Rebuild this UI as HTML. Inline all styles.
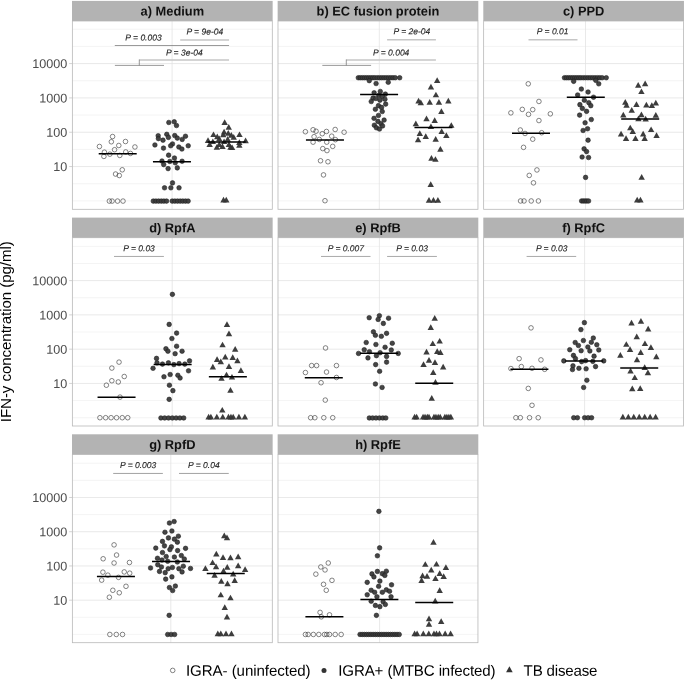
<!DOCTYPE html>
<html lang="en"><head><meta charset="utf-8"><title>IFN-y concentration by antigen</title>
<style>html,body{margin:0;padding:0;background:#fff}body{width:685px;height:680px;overflow:hidden}</style>
</head><body>
<svg width="685" height="680" viewBox="0 0 685 680" style="display:block;filter:grayscale(1)">
<rect x="0" y="0" width="685" height="680" fill="#ffffff"/>
<g>
<line x1="72.35" x2="272.3" y1="200.9" y2="200.9" stroke="#ececec" stroke-width="0.6"/>
<line x1="72.35" x2="272.3" y1="183.74" y2="183.74" stroke="#ececec" stroke-width="0.6"/>
<line x1="72.35" x2="272.3" y1="149.41" y2="149.41" stroke="#ececec" stroke-width="0.6"/>
<line x1="72.35" x2="272.3" y1="115.08" y2="115.08" stroke="#ececec" stroke-width="0.6"/>
<line x1="72.35" x2="272.3" y1="80.75" y2="80.75" stroke="#ececec" stroke-width="0.6"/>
<line x1="72.35" x2="272.3" y1="46.42" y2="46.42" stroke="#ececec" stroke-width="0.6"/>
<line x1="72.35" x2="272.3" y1="29.25" y2="29.25" stroke="#ececec" stroke-width="0.6"/>
<line x1="72.35" x2="272.3" y1="166.57" y2="166.57" stroke="#e2e2e2" stroke-width="0.75"/>
<line x1="72.35" x2="272.3" y1="132.24" y2="132.24" stroke="#e2e2e2" stroke-width="0.75"/>
<line x1="72.35" x2="272.3" y1="97.91" y2="97.91" stroke="#e2e2e2" stroke-width="0.75"/>
<line x1="72.35" x2="272.3" y1="63.58" y2="63.58" stroke="#e2e2e2" stroke-width="0.75"/>
<line x1="172.1" x2="172.1" y1="21" y2="209.3" stroke="#e2e2e2" stroke-width="0.75"/>
</g>
<g>
<line x1="278" x2="477.95" y1="200.9" y2="200.9" stroke="#ececec" stroke-width="0.6"/>
<line x1="278" x2="477.95" y1="183.74" y2="183.74" stroke="#ececec" stroke-width="0.6"/>
<line x1="278" x2="477.95" y1="149.41" y2="149.41" stroke="#ececec" stroke-width="0.6"/>
<line x1="278" x2="477.95" y1="115.08" y2="115.08" stroke="#ececec" stroke-width="0.6"/>
<line x1="278" x2="477.95" y1="80.75" y2="80.75" stroke="#ececec" stroke-width="0.6"/>
<line x1="278" x2="477.95" y1="46.42" y2="46.42" stroke="#ececec" stroke-width="0.6"/>
<line x1="278" x2="477.95" y1="29.25" y2="29.25" stroke="#ececec" stroke-width="0.6"/>
<line x1="278" x2="477.95" y1="166.57" y2="166.57" stroke="#e2e2e2" stroke-width="0.75"/>
<line x1="278" x2="477.95" y1="132.24" y2="132.24" stroke="#e2e2e2" stroke-width="0.75"/>
<line x1="278" x2="477.95" y1="97.91" y2="97.91" stroke="#e2e2e2" stroke-width="0.75"/>
<line x1="278" x2="477.95" y1="63.58" y2="63.58" stroke="#e2e2e2" stroke-width="0.75"/>
<line x1="379.3" x2="379.3" y1="21" y2="209.3" stroke="#e2e2e2" stroke-width="0.75"/>
</g>
<g>
<line x1="483.65" x2="683.6" y1="200.9" y2="200.9" stroke="#ececec" stroke-width="0.6"/>
<line x1="483.65" x2="683.6" y1="183.74" y2="183.74" stroke="#ececec" stroke-width="0.6"/>
<line x1="483.65" x2="683.6" y1="149.41" y2="149.41" stroke="#ececec" stroke-width="0.6"/>
<line x1="483.65" x2="683.6" y1="115.08" y2="115.08" stroke="#ececec" stroke-width="0.6"/>
<line x1="483.65" x2="683.6" y1="80.75" y2="80.75" stroke="#ececec" stroke-width="0.6"/>
<line x1="483.65" x2="683.6" y1="46.42" y2="46.42" stroke="#ececec" stroke-width="0.6"/>
<line x1="483.65" x2="683.6" y1="29.25" y2="29.25" stroke="#ececec" stroke-width="0.6"/>
<line x1="483.65" x2="683.6" y1="166.57" y2="166.57" stroke="#e2e2e2" stroke-width="0.75"/>
<line x1="483.65" x2="683.6" y1="132.24" y2="132.24" stroke="#e2e2e2" stroke-width="0.75"/>
<line x1="483.65" x2="683.6" y1="97.91" y2="97.91" stroke="#e2e2e2" stroke-width="0.75"/>
<line x1="483.65" x2="683.6" y1="63.58" y2="63.58" stroke="#e2e2e2" stroke-width="0.75"/>
<line x1="585.5" x2="585.5" y1="21" y2="209.3" stroke="#e2e2e2" stroke-width="0.75"/>
</g>
<g>
<line x1="72.35" x2="272.3" y1="417.7" y2="417.7" stroke="#ececec" stroke-width="0.6"/>
<line x1="72.35" x2="272.3" y1="400.56" y2="400.56" stroke="#ececec" stroke-width="0.6"/>
<line x1="72.35" x2="272.3" y1="366.29" y2="366.29" stroke="#ececec" stroke-width="0.6"/>
<line x1="72.35" x2="272.3" y1="332.02" y2="332.02" stroke="#ececec" stroke-width="0.6"/>
<line x1="72.35" x2="272.3" y1="297.75" y2="297.75" stroke="#ececec" stroke-width="0.6"/>
<line x1="72.35" x2="272.3" y1="263.49" y2="263.49" stroke="#ececec" stroke-width="0.6"/>
<line x1="72.35" x2="272.3" y1="246.35" y2="246.35" stroke="#ececec" stroke-width="0.6"/>
<line x1="72.35" x2="272.3" y1="383.43" y2="383.43" stroke="#e2e2e2" stroke-width="0.75"/>
<line x1="72.35" x2="272.3" y1="349.16" y2="349.16" stroke="#e2e2e2" stroke-width="0.75"/>
<line x1="72.35" x2="272.3" y1="314.89" y2="314.89" stroke="#e2e2e2" stroke-width="0.75"/>
<line x1="72.35" x2="272.3" y1="280.62" y2="280.62" stroke="#e2e2e2" stroke-width="0.75"/>
<line x1="172.2" x2="172.2" y1="237.7" y2="426" stroke="#e2e2e2" stroke-width="0.75"/>
</g>
<g>
<line x1="278" x2="477.95" y1="417.7" y2="417.7" stroke="#ececec" stroke-width="0.6"/>
<line x1="278" x2="477.95" y1="400.56" y2="400.56" stroke="#ececec" stroke-width="0.6"/>
<line x1="278" x2="477.95" y1="366.29" y2="366.29" stroke="#ececec" stroke-width="0.6"/>
<line x1="278" x2="477.95" y1="332.02" y2="332.02" stroke="#ececec" stroke-width="0.6"/>
<line x1="278" x2="477.95" y1="297.75" y2="297.75" stroke="#ececec" stroke-width="0.6"/>
<line x1="278" x2="477.95" y1="263.49" y2="263.49" stroke="#ececec" stroke-width="0.6"/>
<line x1="278" x2="477.95" y1="246.35" y2="246.35" stroke="#ececec" stroke-width="0.6"/>
<line x1="278" x2="477.95" y1="383.43" y2="383.43" stroke="#e2e2e2" stroke-width="0.75"/>
<line x1="278" x2="477.95" y1="349.16" y2="349.16" stroke="#e2e2e2" stroke-width="0.75"/>
<line x1="278" x2="477.95" y1="314.89" y2="314.89" stroke="#e2e2e2" stroke-width="0.75"/>
<line x1="278" x2="477.95" y1="280.62" y2="280.62" stroke="#e2e2e2" stroke-width="0.75"/>
<line x1="379.4" x2="379.4" y1="237.7" y2="426" stroke="#e2e2e2" stroke-width="0.75"/>
</g>
<g>
<line x1="483.65" x2="683.6" y1="417.7" y2="417.7" stroke="#ececec" stroke-width="0.6"/>
<line x1="483.65" x2="683.6" y1="400.56" y2="400.56" stroke="#ececec" stroke-width="0.6"/>
<line x1="483.65" x2="683.6" y1="366.29" y2="366.29" stroke="#ececec" stroke-width="0.6"/>
<line x1="483.65" x2="683.6" y1="332.02" y2="332.02" stroke="#ececec" stroke-width="0.6"/>
<line x1="483.65" x2="683.6" y1="297.75" y2="297.75" stroke="#ececec" stroke-width="0.6"/>
<line x1="483.65" x2="683.6" y1="263.49" y2="263.49" stroke="#ececec" stroke-width="0.6"/>
<line x1="483.65" x2="683.6" y1="246.35" y2="246.35" stroke="#ececec" stroke-width="0.6"/>
<line x1="483.65" x2="683.6" y1="383.43" y2="383.43" stroke="#e2e2e2" stroke-width="0.75"/>
<line x1="483.65" x2="683.6" y1="349.16" y2="349.16" stroke="#e2e2e2" stroke-width="0.75"/>
<line x1="483.65" x2="683.6" y1="314.89" y2="314.89" stroke="#e2e2e2" stroke-width="0.75"/>
<line x1="483.65" x2="683.6" y1="280.62" y2="280.62" stroke="#e2e2e2" stroke-width="0.75"/>
<line x1="584.6" x2="584.6" y1="237.7" y2="426" stroke="#e2e2e2" stroke-width="0.75"/>
</g>
<g>
<line x1="72.35" x2="272.3" y1="634.4" y2="634.4" stroke="#ececec" stroke-width="0.6"/>
<line x1="72.35" x2="272.3" y1="617.28" y2="617.28" stroke="#ececec" stroke-width="0.6"/>
<line x1="72.35" x2="272.3" y1="583.05" y2="583.05" stroke="#ececec" stroke-width="0.6"/>
<line x1="72.35" x2="272.3" y1="548.83" y2="548.83" stroke="#ececec" stroke-width="0.6"/>
<line x1="72.35" x2="272.3" y1="514.6" y2="514.6" stroke="#ececec" stroke-width="0.6"/>
<line x1="72.35" x2="272.3" y1="480.37" y2="480.37" stroke="#ececec" stroke-width="0.6"/>
<line x1="72.35" x2="272.3" y1="463.25" y2="463.25" stroke="#ececec" stroke-width="0.6"/>
<line x1="72.35" x2="272.3" y1="600.17" y2="600.17" stroke="#e2e2e2" stroke-width="0.75"/>
<line x1="72.35" x2="272.3" y1="565.94" y2="565.94" stroke="#e2e2e2" stroke-width="0.75"/>
<line x1="72.35" x2="272.3" y1="531.71" y2="531.71" stroke="#e2e2e2" stroke-width="0.75"/>
<line x1="72.35" x2="272.3" y1="497.48" y2="497.48" stroke="#e2e2e2" stroke-width="0.75"/>
<line x1="170.8" x2="170.8" y1="454.4" y2="642.7" stroke="#e2e2e2" stroke-width="0.75"/>
</g>
<g>
<line x1="278" x2="477.95" y1="634.4" y2="634.4" stroke="#ececec" stroke-width="0.6"/>
<line x1="278" x2="477.95" y1="617.28" y2="617.28" stroke="#ececec" stroke-width="0.6"/>
<line x1="278" x2="477.95" y1="583.05" y2="583.05" stroke="#ececec" stroke-width="0.6"/>
<line x1="278" x2="477.95" y1="548.83" y2="548.83" stroke="#ececec" stroke-width="0.6"/>
<line x1="278" x2="477.95" y1="514.6" y2="514.6" stroke="#ececec" stroke-width="0.6"/>
<line x1="278" x2="477.95" y1="480.37" y2="480.37" stroke="#ececec" stroke-width="0.6"/>
<line x1="278" x2="477.95" y1="463.25" y2="463.25" stroke="#ececec" stroke-width="0.6"/>
<line x1="278" x2="477.95" y1="600.17" y2="600.17" stroke="#e2e2e2" stroke-width="0.75"/>
<line x1="278" x2="477.95" y1="565.94" y2="565.94" stroke="#e2e2e2" stroke-width="0.75"/>
<line x1="278" x2="477.95" y1="531.71" y2="531.71" stroke="#e2e2e2" stroke-width="0.75"/>
<line x1="278" x2="477.95" y1="497.48" y2="497.48" stroke="#e2e2e2" stroke-width="0.75"/>
<line x1="379.6" x2="379.6" y1="454.4" y2="642.7" stroke="#e2e2e2" stroke-width="0.75"/>
</g>
<g><text x="143.5" y="40.5" transform="rotate(0.03 143.5 40.4)" text-anchor="middle" font-family="Liberation Sans, Arial, sans-serif" font-style="italic" font-size="8.5" fill="#1c1c1c" stroke="#1c1c1c" stroke-width="0.12">P = 0.003</text>
<line x1="114.8" x2="229.05" y1="45.5" y2="45.5" stroke="#6e6e6e" stroke-width="0.7"/>
<text x="204.8" y="34.4" transform="rotate(0.03 204.8 34.3)" text-anchor="middle" font-family="Liberation Sans, Arial, sans-serif" font-style="italic" font-size="8.5" fill="#1c1c1c" stroke="#1c1c1c" stroke-width="0.12">P = 9e-04</text>
<line x1="180.2" x2="229.05" y1="39.9" y2="39.9" stroke="#c6c6c6" stroke-width="1.5"/>
<text x="184.3" y="55.4" transform="rotate(0.03 184.3 55.3)" text-anchor="middle" font-family="Liberation Sans, Arial, sans-serif" font-style="italic" font-size="8.5" fill="#1c1c1c" stroke="#1c1c1c" stroke-width="0.12">P = 3e-04</text>
<line x1="139.3" x2="229.05" y1="59.9" y2="59.9" stroke="#c6c6c6" stroke-width="1.5"/>
<line x1="139.3" x2="139.3" y1="59.5" y2="65.4" stroke="#6e6e6e" stroke-width="0.7"/>
<line x1="114.9" x2="164" y1="65.4" y2="65.4" stroke="#6e6e6e" stroke-width="0.7"/>
<text x="411.9" y="34.2" transform="rotate(0.03 411.9 34.1)" text-anchor="middle" font-family="Liberation Sans, Arial, sans-serif" font-style="italic" font-size="8.5" fill="#1c1c1c" stroke="#1c1c1c" stroke-width="0.12">P = 2e-04</text>
<line x1="387.1" x2="435.9" y1="39.8" y2="39.8" stroke="#c6c6c6" stroke-width="1.5"/>
<text x="391.2" y="55.5" transform="rotate(0.03 391.2 55.4)" text-anchor="middle" font-family="Liberation Sans, Arial, sans-serif" font-style="italic" font-size="8.5" fill="#1c1c1c" stroke="#1c1c1c" stroke-width="0.12">P = 0.004</text>
<line x1="346.3" x2="435.9" y1="59.9" y2="59.9" stroke="#c6c6c6" stroke-width="1.5"/>
<line x1="346.3" x2="346.3" y1="59.5" y2="65.4" stroke="#6e6e6e" stroke-width="0.7"/>
<line x1="322.3" x2="371.1" y1="65.4" y2="65.4" stroke="#6e6e6e" stroke-width="0.7"/>
<text x="552.65" y="34.2" transform="rotate(0.03 552.65 34.1)" text-anchor="middle" font-family="Liberation Sans, Arial, sans-serif" font-style="italic" font-size="8.5" fill="#1c1c1c" stroke="#1c1c1c" stroke-width="0.12">P = 0.01</text>
<line x1="528.5" x2="577.5" y1="39.85" y2="39.85" stroke="#c6c6c6" stroke-width="1.5"/>
<text x="139.05" y="251.2" transform="rotate(0.03 139.05 251.1)" text-anchor="middle" font-family="Liberation Sans, Arial, sans-serif" font-style="italic" font-size="8.5" fill="#1c1c1c" stroke="#1c1c1c" stroke-width="0.12">P = 0.03</text>
<line x1="114" x2="163.9" y1="256.45" y2="256.45" stroke="#a9a9a9" stroke-width="1.0"/>
<text x="345.9" y="251.2" transform="rotate(0.03 345.9 251.1)" text-anchor="middle" font-family="Liberation Sans, Arial, sans-serif" font-style="italic" font-size="8.5" fill="#1c1c1c" stroke="#1c1c1c" stroke-width="0.12">P = 0.007</text>
<line x1="321" x2="370.5" y1="256.45" y2="256.45" stroke="#a9a9a9" stroke-width="1.0"/>
<text x="412.1" y="251.2" transform="rotate(0.03 412.1 251.1)" text-anchor="middle" font-family="Liberation Sans, Arial, sans-serif" font-style="italic" font-size="8.5" fill="#1c1c1c" stroke="#1c1c1c" stroke-width="0.12">P = 0.03</text>
<line x1="387.1" x2="436.9" y1="256.45" y2="256.45" stroke="#a9a9a9" stroke-width="1.0"/>
<text x="551.7" y="251.2" transform="rotate(0.03 551.7 251.1)" text-anchor="middle" font-family="Liberation Sans, Arial, sans-serif" font-style="italic" font-size="8.5" fill="#1c1c1c" stroke="#1c1c1c" stroke-width="0.12">P = 0.03</text>
<line x1="526.6" x2="576.2" y1="256.45" y2="256.45" stroke="#a9a9a9" stroke-width="1.0"/>
<text x="138.15" y="467.95" transform="rotate(0.03 138.15 467.85)" text-anchor="middle" font-family="Liberation Sans, Arial, sans-serif" font-style="italic" font-size="8.5" fill="#1c1c1c" stroke="#1c1c1c" stroke-width="0.12">P = 0.003</text>
<line x1="113.2" x2="162.85" y1="473.45" y2="473.45" stroke="#7a7a7a" stroke-width="0.7"/>
<text x="203.85" y="467.95" transform="rotate(0.03 203.85 467.85)" text-anchor="middle" font-family="Liberation Sans, Arial, sans-serif" font-style="italic" font-size="8.5" fill="#1c1c1c" stroke="#1c1c1c" stroke-width="0.12">P = 0.04</text>
<line x1="179" x2="228.75" y1="473.45" y2="473.45" stroke="#7a7a7a" stroke-width="0.7"/></g>
<g>
<circle cx="112.58" cy="136.55" r="2.3" fill="none" stroke="#333" stroke-width="0.6"/>
<circle cx="111.34" cy="141.77" r="2.3" fill="none" stroke="#333" stroke-width="0.6"/>
<circle cx="125.49" cy="141.52" r="2.3" fill="none" stroke="#333" stroke-width="0.6"/>
<circle cx="99.43" cy="146.48" r="2.3" fill="none" stroke="#333" stroke-width="0.6"/>
<circle cx="118.79" cy="145.49" r="2.3" fill="none" stroke="#333" stroke-width="0.6"/>
<circle cx="134.92" cy="146.98" r="2.3" fill="none" stroke="#333" stroke-width="0.6"/>
<circle cx="114.57" cy="149.71" r="2.3" fill="none" stroke="#333" stroke-width="0.6"/>
<circle cx="104.39" cy="152.19" r="2.3" fill="none" stroke="#333" stroke-width="0.6"/>
<circle cx="125.74" cy="151.94" r="2.3" fill="none" stroke="#333" stroke-width="0.6"/>
<circle cx="109.85" cy="154.18" r="2.3" fill="none" stroke="#333" stroke-width="0.6"/>
<circle cx="130.45" cy="153.43" r="2.3" fill="none" stroke="#333" stroke-width="0.6"/>
<circle cx="103.9" cy="156.41" r="2.3" fill="none" stroke="#333" stroke-width="0.6"/>
<circle cx="119.78" cy="155.42" r="2.3" fill="none" stroke="#333" stroke-width="0.6"/>
<circle cx="122.26" cy="169.81" r="2.3" fill="none" stroke="#333" stroke-width="0.6"/>
<circle cx="115.56" cy="174.03" r="2.3" fill="none" stroke="#333" stroke-width="0.6"/>
<circle cx="119.28" cy="175.52" r="2.3" fill="none" stroke="#333" stroke-width="0.6"/>
<circle cx="109.36" cy="201.08" r="2.3" fill="none" stroke="#333" stroke-width="0.6"/>
<circle cx="112.09" cy="201.08" r="2.3" fill="none" stroke="#333" stroke-width="0.6"/>
<circle cx="117.55" cy="201.08" r="2.3" fill="none" stroke="#333" stroke-width="0.6"/>
<circle cx="123.01" cy="201.08" r="2.3" fill="none" stroke="#333" stroke-width="0.6"/>
<circle cx="168.82" cy="122.47" r="2.3" fill="#3b3b3b" fill-opacity="0.95" stroke="#1c1c1c" stroke-width="0.55"/>
<circle cx="174.23" cy="121.75" r="2.3" fill="#3b3b3b" fill-opacity="0.95" stroke="#1c1c1c" stroke-width="0.55"/>
<circle cx="176.48" cy="125.53" r="2.3" fill="#3b3b3b" fill-opacity="0.95" stroke="#1c1c1c" stroke-width="0.55"/>
<circle cx="166.77" cy="134.32" r="2.3" fill="#3b3b3b" fill-opacity="0.95" stroke="#1c1c1c" stroke-width="0.55"/>
<circle cx="158.19" cy="135.75" r="2.3" fill="#3b3b3b" fill-opacity="0.95" stroke="#1c1c1c" stroke-width="0.55"/>
<circle cx="174.74" cy="135.55" r="2.3" fill="#3b3b3b" fill-opacity="0.95" stroke="#1c1c1c" stroke-width="0.55"/>
<circle cx="185.47" cy="136.26" r="2.3" fill="#3b3b3b" fill-opacity="0.95" stroke="#1c1c1c" stroke-width="0.55"/>
<circle cx="168.41" cy="137.39" r="2.3" fill="#3b3b3b" fill-opacity="0.95" stroke="#1c1c1c" stroke-width="0.55"/>
<circle cx="158.39" cy="138.61" r="2.3" fill="#3b3b3b" fill-opacity="0.95" stroke="#1c1c1c" stroke-width="0.55"/>
<circle cx="177.3" cy="138.1" r="2.3" fill="#3b3b3b" fill-opacity="0.95" stroke="#1c1c1c" stroke-width="0.55"/>
<circle cx="182.2" cy="139.43" r="2.3" fill="#3b3b3b" fill-opacity="0.95" stroke="#1c1c1c" stroke-width="0.55"/>
<circle cx="162.99" cy="140.15" r="2.3" fill="#3b3b3b" fill-opacity="0.95" stroke="#1c1c1c" stroke-width="0.55"/>
<circle cx="172.5" cy="143.93" r="2.3" fill="#3b3b3b" fill-opacity="0.95" stroke="#1c1c1c" stroke-width="0.55"/>
<circle cx="154.92" cy="144.95" r="2.3" fill="#3b3b3b" fill-opacity="0.95" stroke="#1c1c1c" stroke-width="0.55"/>
<circle cx="170.66" cy="145.77" r="2.3" fill="#3b3b3b" fill-opacity="0.95" stroke="#1c1c1c" stroke-width="0.55"/>
<circle cx="188.23" cy="145.77" r="2.3" fill="#3b3b3b" fill-opacity="0.95" stroke="#1c1c1c" stroke-width="0.55"/>
<circle cx="178.83" cy="146.99" r="2.3" fill="#3b3b3b" fill-opacity="0.95" stroke="#1c1c1c" stroke-width="0.55"/>
<circle cx="163.5" cy="148.12" r="2.3" fill="#3b3b3b" fill-opacity="0.95" stroke="#1c1c1c" stroke-width="0.55"/>
<circle cx="181.9" cy="149.04" r="2.3" fill="#3b3b3b" fill-opacity="0.95" stroke="#1c1c1c" stroke-width="0.55"/>
<circle cx="168.61" cy="155.17" r="2.3" fill="#3b3b3b" fill-opacity="0.95" stroke="#1c1c1c" stroke-width="0.55"/>
<circle cx="174.44" cy="158.03" r="2.3" fill="#3b3b3b" fill-opacity="0.95" stroke="#1c1c1c" stroke-width="0.55"/>
<circle cx="161.97" cy="161.04" r="2.3" fill="#3b3b3b" fill-opacity="0.95" stroke="#1c1c1c" stroke-width="0.55"/>
<circle cx="169.84" cy="161.45" r="2.3" fill="#3b3b3b" fill-opacity="0.95" stroke="#1c1c1c" stroke-width="0.55"/>
<circle cx="175.26" cy="162.77" r="2.3" fill="#3b3b3b" fill-opacity="0.95" stroke="#1c1c1c" stroke-width="0.55"/>
<circle cx="182.1" cy="161.24" r="2.3" fill="#3b3b3b" fill-opacity="0.95" stroke="#1c1c1c" stroke-width="0.55"/>
<circle cx="163.71" cy="164.61" r="2.3" fill="#3b3b3b" fill-opacity="0.95" stroke="#1c1c1c" stroke-width="0.55"/>
<circle cx="168.1" cy="168.6" r="2.3" fill="#3b3b3b" fill-opacity="0.95" stroke="#1c1c1c" stroke-width="0.55"/>
<circle cx="177.3" cy="167.88" r="2.3" fill="#3b3b3b" fill-opacity="0.95" stroke="#1c1c1c" stroke-width="0.55"/>
<circle cx="172.5" cy="182.91" r="2.3" fill="#3b3b3b" fill-opacity="0.95" stroke="#1c1c1c" stroke-width="0.55"/>
<circle cx="164.53" cy="187.81" r="2.3" fill="#3b3b3b" fill-opacity="0.95" stroke="#1c1c1c" stroke-width="0.55"/>
<circle cx="170.86" cy="187.81" r="2.3" fill="#3b3b3b" fill-opacity="0.95" stroke="#1c1c1c" stroke-width="0.55"/>
<circle cx="179.04" cy="187.81" r="2.3" fill="#3b3b3b" fill-opacity="0.95" stroke="#1c1c1c" stroke-width="0.55"/>
<circle cx="153.28" cy="201.09" r="2.3" fill="#3b3b3b" fill-opacity="0.95" stroke="#1c1c1c" stroke-width="0.55"/>
<circle cx="155.94" cy="201.09" r="2.3" fill="#3b3b3b" fill-opacity="0.95" stroke="#1c1c1c" stroke-width="0.55"/>
<circle cx="158.6" cy="201.09" r="2.3" fill="#3b3b3b" fill-opacity="0.95" stroke="#1c1c1c" stroke-width="0.55"/>
<circle cx="161.26" cy="201.09" r="2.3" fill="#3b3b3b" fill-opacity="0.95" stroke="#1c1c1c" stroke-width="0.55"/>
<circle cx="163.91" cy="201.09" r="2.3" fill="#3b3b3b" fill-opacity="0.95" stroke="#1c1c1c" stroke-width="0.55"/>
<circle cx="166.57" cy="201.09" r="2.3" fill="#3b3b3b" fill-opacity="0.95" stroke="#1c1c1c" stroke-width="0.55"/>
<circle cx="172.19" cy="201.09" r="2.3" fill="#3b3b3b" fill-opacity="0.95" stroke="#1c1c1c" stroke-width="0.55"/>
<circle cx="174.85" cy="201.09" r="2.3" fill="#3b3b3b" fill-opacity="0.95" stroke="#1c1c1c" stroke-width="0.55"/>
<circle cx="177.5" cy="201.09" r="2.3" fill="#3b3b3b" fill-opacity="0.95" stroke="#1c1c1c" stroke-width="0.55"/>
<circle cx="180.16" cy="201.09" r="2.3" fill="#3b3b3b" fill-opacity="0.95" stroke="#1c1c1c" stroke-width="0.55"/>
<circle cx="182.82" cy="201.09" r="2.3" fill="#3b3b3b" fill-opacity="0.95" stroke="#1c1c1c" stroke-width="0.55"/>
<circle cx="185.47" cy="201.09" r="2.3" fill="#3b3b3b" fill-opacity="0.95" stroke="#1c1c1c" stroke-width="0.55"/>
<circle cx="188.13" cy="201.09" r="2.3" fill="#3b3b3b" fill-opacity="0.95" stroke="#1c1c1c" stroke-width="0.55"/>
<polygon points="224.65,119.29 227.85,124.99 221.45,124.99" fill="#333333" fill-opacity="0.95"/>
<polygon points="228.74,123.94 231.94,129.64 225.54,129.64" fill="#333333" fill-opacity="0.95"/>
<polygon points="224.09,128.76 227.29,134.46 220.89,134.46" fill="#333333" fill-opacity="0.95"/>
<polygon points="228.26,129.97 231.46,135.67 225.06,135.67" fill="#333333" fill-opacity="0.95"/>
<polygon points="213.49,131.41 216.69,137.11 210.29,137.11" fill="#333333" fill-opacity="0.95"/>
<polygon points="239.5,131.41 242.7,137.11 236.3,137.11" fill="#333333" fill-opacity="0.95"/>
<polygon points="223.28,131.57 226.48,137.27 220.08,137.27" fill="#333333" fill-opacity="0.95"/>
<polygon points="231.31,131.97 234.51,137.67 228.11,137.67" fill="#333333" fill-opacity="0.95"/>
<polygon points="217.26,133.58 220.46,139.28 214.06,139.28" fill="#333333" fill-opacity="0.95"/>
<polygon points="233.72,133.98 236.92,139.68 230.52,139.68" fill="#333333" fill-opacity="0.95"/>
<polygon points="219.27,135.59 222.47,141.29 216.07,141.29" fill="#333333" fill-opacity="0.95"/>
<polygon points="227.7,135.99 230.9,141.69 224.5,141.69" fill="#333333" fill-opacity="0.95"/>
<polygon points="208.03,137.19 211.23,142.89 204.83,142.89" fill="#333333" fill-opacity="0.95"/>
<polygon points="245.61,137.59 248.81,143.29 242.41,143.29" fill="#333333" fill-opacity="0.95"/>
<polygon points="212.85,138.4 216.05,144.1 209.65,144.1" fill="#333333" fill-opacity="0.95"/>
<polygon points="224.09,138.4 227.29,144.1 220.89,144.1" fill="#333333" fill-opacity="0.95"/>
<polygon points="239.34,139.2 242.54,144.9 236.14,144.9" fill="#333333" fill-opacity="0.95"/>
<polygon points="209.64,141.21 212.84,146.91 206.44,146.91" fill="#333333" fill-opacity="0.95"/>
<polygon points="219.27,141.21 222.47,146.91 216.07,146.91" fill="#333333" fill-opacity="0.95"/>
<polygon points="228.91,141.21 232.11,146.91 225.71,146.91" fill="#333333" fill-opacity="0.95"/>
<polygon points="239.34,142.01 242.54,147.71 236.14,147.71" fill="#333333" fill-opacity="0.95"/>
<polygon points="222.48,143.21 225.68,148.91 219.28,148.91" fill="#333333" fill-opacity="0.95"/>
<polygon points="216.86,144.02 220.06,149.72 213.66,149.72" fill="#333333" fill-opacity="0.95"/>
<polygon points="230.51,144.02 233.71,149.72 227.31,149.72" fill="#333333" fill-opacity="0.95"/>
<polygon points="232.12,144.42 235.32,150.12 228.92,150.12" fill="#333333" fill-opacity="0.95"/>
<polygon points="223.52,196.74 226.72,202.44 220.32,202.44" fill="#333333" fill-opacity="0.95"/>
<polygon points="226.25,196.74 229.45,202.44 223.05,202.44" fill="#333333" fill-opacity="0.95"/>
<line x1="98.7" x2="136.7" y1="153.7" y2="153.7" stroke="#000" stroke-width="1.5"/>
<line x1="152.95" x2="190.95" y1="161.8" y2="161.8" stroke="#000" stroke-width="1.5"/>
<line x1="207.7" x2="245.7" y1="142" y2="142" stroke="#000" stroke-width="1.5"/>
</g>
<g>
<circle cx="305.39" cy="131.72" r="2.3" fill="none" stroke="#333" stroke-width="0.6"/>
<circle cx="313.08" cy="129.74" r="2.3" fill="none" stroke="#333" stroke-width="0.6"/>
<circle cx="316.06" cy="131.23" r="2.3" fill="none" stroke="#333" stroke-width="0.6"/>
<circle cx="326.48" cy="131.47" r="2.3" fill="none" stroke="#333" stroke-width="0.6"/>
<circle cx="335.17" cy="129.49" r="2.3" fill="none" stroke="#333" stroke-width="0.6"/>
<circle cx="344.1" cy="132.22" r="2.3" fill="none" stroke="#333" stroke-width="0.6"/>
<circle cx="322.26" cy="133.71" r="2.3" fill="none" stroke="#333" stroke-width="0.6"/>
<circle cx="314.07" cy="136.69" r="2.3" fill="none" stroke="#333" stroke-width="0.6"/>
<circle cx="331.69" cy="136.19" r="2.3" fill="none" stroke="#333" stroke-width="0.6"/>
<circle cx="319.28" cy="139.42" r="2.3" fill="none" stroke="#333" stroke-width="0.6"/>
<circle cx="335.42" cy="139.66" r="2.3" fill="none" stroke="#333" stroke-width="0.6"/>
<circle cx="313.08" cy="142.15" r="2.3" fill="none" stroke="#333" stroke-width="0.6"/>
<circle cx="326.73" cy="142.15" r="2.3" fill="none" stroke="#333" stroke-width="0.6"/>
<circle cx="332.69" cy="146.36" r="2.3" fill="none" stroke="#333" stroke-width="0.6"/>
<circle cx="322.76" cy="148.6" r="2.3" fill="none" stroke="#333" stroke-width="0.6"/>
<circle cx="326.98" cy="150.58" r="2.3" fill="none" stroke="#333" stroke-width="0.6"/>
<circle cx="320.53" cy="160.76" r="2.3" fill="none" stroke="#333" stroke-width="0.6"/>
<circle cx="327.97" cy="161.75" r="2.3" fill="none" stroke="#333" stroke-width="0.6"/>
<circle cx="323.5" cy="174.91" r="2.3" fill="none" stroke="#333" stroke-width="0.6"/>
<circle cx="324.99" cy="200.72" r="2.3" fill="none" stroke="#333" stroke-width="0.6"/>
<circle cx="358.31" cy="77.73" r="2.3" fill="#3b3b3b" fill-opacity="0.95" stroke="#1c1c1c" stroke-width="0.55"/>
<circle cx="360.38" cy="77.73" r="2.3" fill="#3b3b3b" fill-opacity="0.95" stroke="#1c1c1c" stroke-width="0.55"/>
<circle cx="362.45" cy="77.73" r="2.3" fill="#3b3b3b" fill-opacity="0.95" stroke="#1c1c1c" stroke-width="0.55"/>
<circle cx="364.51" cy="77.73" r="2.3" fill="#3b3b3b" fill-opacity="0.95" stroke="#1c1c1c" stroke-width="0.55"/>
<circle cx="366.58" cy="77.73" r="2.3" fill="#3b3b3b" fill-opacity="0.95" stroke="#1c1c1c" stroke-width="0.55"/>
<circle cx="368.65" cy="77.73" r="2.3" fill="#3b3b3b" fill-opacity="0.95" stroke="#1c1c1c" stroke-width="0.55"/>
<circle cx="370.72" cy="77.73" r="2.3" fill="#3b3b3b" fill-opacity="0.95" stroke="#1c1c1c" stroke-width="0.55"/>
<circle cx="372.79" cy="77.73" r="2.3" fill="#3b3b3b" fill-opacity="0.95" stroke="#1c1c1c" stroke-width="0.55"/>
<circle cx="374.86" cy="77.73" r="2.3" fill="#3b3b3b" fill-opacity="0.95" stroke="#1c1c1c" stroke-width="0.55"/>
<circle cx="377.23" cy="77.73" r="2.3" fill="#3b3b3b" fill-opacity="0.95" stroke="#1c1c1c" stroke-width="0.55"/>
<circle cx="379.48" cy="77.73" r="2.3" fill="#3b3b3b" fill-opacity="0.95" stroke="#1c1c1c" stroke-width="0.55"/>
<circle cx="381.74" cy="77.73" r="2.3" fill="#3b3b3b" fill-opacity="0.95" stroke="#1c1c1c" stroke-width="0.55"/>
<circle cx="383.99" cy="77.73" r="2.3" fill="#3b3b3b" fill-opacity="0.95" stroke="#1c1c1c" stroke-width="0.55"/>
<circle cx="386.24" cy="77.73" r="2.3" fill="#3b3b3b" fill-opacity="0.95" stroke="#1c1c1c" stroke-width="0.55"/>
<circle cx="388.5" cy="77.73" r="2.3" fill="#3b3b3b" fill-opacity="0.95" stroke="#1c1c1c" stroke-width="0.55"/>
<circle cx="390.75" cy="77.73" r="2.3" fill="#3b3b3b" fill-opacity="0.95" stroke="#1c1c1c" stroke-width="0.55"/>
<circle cx="393.01" cy="77.73" r="2.3" fill="#3b3b3b" fill-opacity="0.95" stroke="#1c1c1c" stroke-width="0.55"/>
<circle cx="395.26" cy="77.73" r="2.3" fill="#3b3b3b" fill-opacity="0.95" stroke="#1c1c1c" stroke-width="0.55"/>
<circle cx="399.69" cy="77.73" r="2.3" fill="#3b3b3b" fill-opacity="0.95" stroke="#1c1c1c" stroke-width="0.55"/>
<circle cx="369.29" cy="80.65" r="2.3" fill="#3b3b3b" fill-opacity="0.95" stroke="#1c1c1c" stroke-width="0.55"/>
<circle cx="388.24" cy="82.29" r="2.3" fill="#3b3b3b" fill-opacity="0.95" stroke="#1c1c1c" stroke-width="0.55"/>
<circle cx="376.09" cy="83.53" r="2.3" fill="#3b3b3b" fill-opacity="0.95" stroke="#1c1c1c" stroke-width="0.55"/>
<circle cx="380.31" cy="91.46" r="2.3" fill="#3b3b3b" fill-opacity="0.95" stroke="#1c1c1c" stroke-width="0.55"/>
<circle cx="374.13" cy="92.79" r="2.3" fill="#3b3b3b" fill-opacity="0.95" stroke="#1c1c1c" stroke-width="0.55"/>
<circle cx="385.35" cy="94.13" r="2.3" fill="#3b3b3b" fill-opacity="0.95" stroke="#1c1c1c" stroke-width="0.55"/>
<circle cx="378.97" cy="95.37" r="2.3" fill="#3b3b3b" fill-opacity="0.95" stroke="#1c1c1c" stroke-width="0.55"/>
<circle cx="382.26" cy="96.4" r="2.3" fill="#3b3b3b" fill-opacity="0.95" stroke="#1c1c1c" stroke-width="0.55"/>
<circle cx="373" cy="98.15" r="2.3" fill="#3b3b3b" fill-opacity="0.95" stroke="#1c1c1c" stroke-width="0.55"/>
<circle cx="375.88" cy="98.46" r="2.3" fill="#3b3b3b" fill-opacity="0.95" stroke="#1c1c1c" stroke-width="0.55"/>
<circle cx="384.94" cy="99.18" r="2.3" fill="#3b3b3b" fill-opacity="0.95" stroke="#1c1c1c" stroke-width="0.55"/>
<circle cx="380" cy="100.21" r="2.3" fill="#3b3b3b" fill-opacity="0.95" stroke="#1c1c1c" stroke-width="0.55"/>
<circle cx="371.25" cy="101.54" r="2.3" fill="#3b3b3b" fill-opacity="0.95" stroke="#1c1c1c" stroke-width="0.55"/>
<circle cx="385.66" cy="104.12" r="2.3" fill="#3b3b3b" fill-opacity="0.95" stroke="#1c1c1c" stroke-width="0.55"/>
<circle cx="378.46" cy="105.66" r="2.3" fill="#3b3b3b" fill-opacity="0.95" stroke="#1c1c1c" stroke-width="0.55"/>
<circle cx="381.54" cy="107.41" r="2.3" fill="#3b3b3b" fill-opacity="0.95" stroke="#1c1c1c" stroke-width="0.55"/>
<circle cx="375.37" cy="109.26" r="2.3" fill="#3b3b3b" fill-opacity="0.95" stroke="#1c1c1c" stroke-width="0.55"/>
<circle cx="382.26" cy="111.53" r="2.3" fill="#3b3b3b" fill-opacity="0.95" stroke="#1c1c1c" stroke-width="0.55"/>
<circle cx="378.46" cy="115.44" r="2.3" fill="#3b3b3b" fill-opacity="0.95" stroke="#1c1c1c" stroke-width="0.55"/>
<circle cx="374.03" cy="118.32" r="2.3" fill="#3b3b3b" fill-opacity="0.95" stroke="#1c1c1c" stroke-width="0.55"/>
<circle cx="384.12" cy="120.07" r="2.3" fill="#3b3b3b" fill-opacity="0.95" stroke="#1c1c1c" stroke-width="0.55"/>
<circle cx="377.94" cy="121.41" r="2.3" fill="#3b3b3b" fill-opacity="0.95" stroke="#1c1c1c" stroke-width="0.55"/>
<circle cx="381.03" cy="123.68" r="2.3" fill="#3b3b3b" fill-opacity="0.95" stroke="#1c1c1c" stroke-width="0.55"/>
<circle cx="374.34" cy="125.22" r="2.3" fill="#3b3b3b" fill-opacity="0.95" stroke="#1c1c1c" stroke-width="0.55"/>
<circle cx="382.57" cy="125.94" r="2.3" fill="#3b3b3b" fill-opacity="0.95" stroke="#1c1c1c" stroke-width="0.55"/>
<circle cx="376.4" cy="127.79" r="2.3" fill="#3b3b3b" fill-opacity="0.95" stroke="#1c1c1c" stroke-width="0.55"/>
<circle cx="379.49" cy="129.03" r="2.3" fill="#3b3b3b" fill-opacity="0.95" stroke="#1c1c1c" stroke-width="0.55"/>
<polygon points="437.17,77.25 440.37,82.95 433.97,82.95" fill="#333333" fill-opacity="0.95"/>
<polygon points="430.96,83.7 434.16,89.4 427.76,89.4" fill="#333333" fill-opacity="0.95"/>
<polygon points="435.93,91.64 439.13,97.34 432.73,97.34" fill="#333333" fill-opacity="0.95"/>
<polygon points="418.55,97.85 421.75,103.55 415.35,103.55" fill="#333333" fill-opacity="0.95"/>
<polygon points="420.79,99.59 423.99,105.29 417.59,105.29" fill="#333333" fill-opacity="0.95"/>
<polygon points="429.72,99.09 432.92,104.79 426.52,104.79" fill="#333333" fill-opacity="0.95"/>
<polygon points="438.91,99.09 442.11,104.79 435.71,104.79" fill="#333333" fill-opacity="0.95"/>
<polygon points="448.34,97.85 451.54,103.55 445.14,103.55" fill="#333333" fill-opacity="0.95"/>
<polygon points="441.39,108.27 444.59,113.97 438.19,113.97" fill="#333333" fill-opacity="0.95"/>
<polygon points="426.5,115.47 429.7,121.17 423.3,121.17" fill="#333333" fill-opacity="0.95"/>
<polygon points="434.69,117.21 437.89,122.91 431.49,122.91" fill="#333333" fill-opacity="0.95"/>
<polygon points="415.82,120.43 419.02,126.13 412.62,126.13" fill="#333333" fill-opacity="0.95"/>
<polygon points="451.31,122.17 454.51,127.87 448.11,127.87" fill="#333333" fill-opacity="0.95"/>
<polygon points="430.96,123.41 434.16,129.11 427.76,129.11" fill="#333333" fill-opacity="0.95"/>
<polygon points="441.64,128.37 444.84,134.07 438.44,134.07" fill="#333333" fill-opacity="0.95"/>
<polygon points="419.8,130.36 423,136.06 416.6,136.06" fill="#333333" fill-opacity="0.95"/>
<polygon points="446.35,132.35 449.55,138.05 443.15,138.05" fill="#333333" fill-opacity="0.95"/>
<polygon points="425.75,133.34 428.95,139.04 422.55,139.04" fill="#333333" fill-opacity="0.95"/>
<polygon points="418.06,136.56 421.26,142.26 414.86,142.26" fill="#333333" fill-opacity="0.95"/>
<polygon points="435.68,136.07 438.88,141.77 432.48,141.77" fill="#333333" fill-opacity="0.95"/>
<polygon points="440.39,145.99 443.59,151.69 437.19,151.69" fill="#333333" fill-opacity="0.95"/>
<polygon points="431.46,154.93 434.66,160.63 428.26,160.63" fill="#333333" fill-opacity="0.95"/>
<polygon points="435.43,156.17 438.63,161.87 432.23,161.87" fill="#333333" fill-opacity="0.95"/>
<polygon points="430.72,181.24 433.92,186.94 427.52,186.94" fill="#333333" fill-opacity="0.95"/>
<polygon points="428.98,197.12 432.18,202.82 425.78,202.82" fill="#333333" fill-opacity="0.95"/>
<polygon points="433.45,197.12 436.65,202.82 430.25,202.82" fill="#333333" fill-opacity="0.95"/>
<polygon points="437.91,197.12 441.11,202.82 434.71,202.82" fill="#333333" fill-opacity="0.95"/>
<line x1="305.95" x2="343.95" y1="140" y2="140" stroke="#000" stroke-width="1.5"/>
<line x1="360.1" x2="398.1" y1="94.5" y2="94.5" stroke="#000" stroke-width="1.5"/>
<line x1="414.45" x2="452.45" y1="127.5" y2="127.5" stroke="#000" stroke-width="1.5"/>
</g>
<g>
<circle cx="528.26" cy="83.82" r="2.3" fill="none" stroke="#333" stroke-width="0.6"/>
<circle cx="538.93" cy="101.45" r="2.3" fill="none" stroke="#333" stroke-width="0.6"/>
<circle cx="522.3" cy="109.39" r="2.3" fill="none" stroke="#333" stroke-width="0.6"/>
<circle cx="532.72" cy="109.64" r="2.3" fill="none" stroke="#333" stroke-width="0.6"/>
<circle cx="510.88" cy="112.86" r="2.3" fill="none" stroke="#333" stroke-width="0.6"/>
<circle cx="528.5" cy="114.35" r="2.3" fill="none" stroke="#333" stroke-width="0.6"/>
<circle cx="550.34" cy="113.85" r="2.3" fill="none" stroke="#333" stroke-width="0.6"/>
<circle cx="538.93" cy="120.55" r="2.3" fill="none" stroke="#333" stroke-width="0.6"/>
<circle cx="520.31" cy="129.99" r="2.3" fill="none" stroke="#333" stroke-width="0.6"/>
<circle cx="525.03" cy="133.46" r="2.3" fill="none" stroke="#333" stroke-width="0.6"/>
<circle cx="541.66" cy="132.72" r="2.3" fill="none" stroke="#333" stroke-width="0.6"/>
<circle cx="532.72" cy="139.17" r="2.3" fill="none" stroke="#333" stroke-width="0.6"/>
<circle cx="523.54" cy="147.36" r="2.3" fill="none" stroke="#333" stroke-width="0.6"/>
<circle cx="536.94" cy="169.94" r="2.3" fill="none" stroke="#333" stroke-width="0.6"/>
<circle cx="529.25" cy="175.4" r="2.3" fill="none" stroke="#333" stroke-width="0.6"/>
<circle cx="533.47" cy="182.85" r="2.3" fill="none" stroke="#333" stroke-width="0.6"/>
<circle cx="520.56" cy="200.96" r="2.3" fill="none" stroke="#333" stroke-width="0.6"/>
<circle cx="524.04" cy="200.96" r="2.3" fill="none" stroke="#333" stroke-width="0.6"/>
<circle cx="531.23" cy="200.96" r="2.3" fill="none" stroke="#333" stroke-width="0.6"/>
<circle cx="538.43" cy="200.96" r="2.3" fill="none" stroke="#333" stroke-width="0.6"/>
<circle cx="564.46" cy="77.73" r="2.3" fill="#3b3b3b" fill-opacity="0.95" stroke="#1c1c1c" stroke-width="0.55"/>
<circle cx="566.51" cy="77.73" r="2.3" fill="#3b3b3b" fill-opacity="0.95" stroke="#1c1c1c" stroke-width="0.55"/>
<circle cx="568.56" cy="77.73" r="2.3" fill="#3b3b3b" fill-opacity="0.95" stroke="#1c1c1c" stroke-width="0.55"/>
<circle cx="570.61" cy="77.73" r="2.3" fill="#3b3b3b" fill-opacity="0.95" stroke="#1c1c1c" stroke-width="0.55"/>
<circle cx="572.66" cy="77.73" r="2.3" fill="#3b3b3b" fill-opacity="0.95" stroke="#1c1c1c" stroke-width="0.55"/>
<circle cx="574.71" cy="77.73" r="2.3" fill="#3b3b3b" fill-opacity="0.95" stroke="#1c1c1c" stroke-width="0.55"/>
<circle cx="576.76" cy="77.73" r="2.3" fill="#3b3b3b" fill-opacity="0.95" stroke="#1c1c1c" stroke-width="0.55"/>
<circle cx="578.81" cy="77.73" r="2.3" fill="#3b3b3b" fill-opacity="0.95" stroke="#1c1c1c" stroke-width="0.55"/>
<circle cx="580.86" cy="77.73" r="2.3" fill="#3b3b3b" fill-opacity="0.95" stroke="#1c1c1c" stroke-width="0.55"/>
<circle cx="583.23" cy="77.73" r="2.3" fill="#3b3b3b" fill-opacity="0.95" stroke="#1c1c1c" stroke-width="0.55"/>
<circle cx="585.59" cy="77.73" r="2.3" fill="#3b3b3b" fill-opacity="0.95" stroke="#1c1c1c" stroke-width="0.55"/>
<circle cx="587.96" cy="77.73" r="2.3" fill="#3b3b3b" fill-opacity="0.95" stroke="#1c1c1c" stroke-width="0.55"/>
<circle cx="590.32" cy="77.73" r="2.3" fill="#3b3b3b" fill-opacity="0.95" stroke="#1c1c1c" stroke-width="0.55"/>
<circle cx="592.69" cy="77.73" r="2.3" fill="#3b3b3b" fill-opacity="0.95" stroke="#1c1c1c" stroke-width="0.55"/>
<circle cx="595.05" cy="77.73" r="2.3" fill="#3b3b3b" fill-opacity="0.95" stroke="#1c1c1c" stroke-width="0.55"/>
<circle cx="597.42" cy="77.73" r="2.3" fill="#3b3b3b" fill-opacity="0.95" stroke="#1c1c1c" stroke-width="0.55"/>
<circle cx="599.78" cy="77.73" r="2.3" fill="#3b3b3b" fill-opacity="0.95" stroke="#1c1c1c" stroke-width="0.55"/>
<circle cx="602.15" cy="77.73" r="2.3" fill="#3b3b3b" fill-opacity="0.95" stroke="#1c1c1c" stroke-width="0.55"/>
<circle cx="606.25" cy="77.73" r="2.3" fill="#3b3b3b" fill-opacity="0.95" stroke="#1c1c1c" stroke-width="0.55"/>
<circle cx="595.76" cy="80.35" r="2.3" fill="#3b3b3b" fill-opacity="0.95" stroke="#1c1c1c" stroke-width="0.55"/>
<circle cx="573.67" cy="81.34" r="2.3" fill="#3b3b3b" fill-opacity="0.95" stroke="#1c1c1c" stroke-width="0.55"/>
<circle cx="598.74" cy="83.82" r="2.3" fill="#3b3b3b" fill-opacity="0.95" stroke="#1c1c1c" stroke-width="0.55"/>
<circle cx="581.36" cy="89.04" r="2.3" fill="#3b3b3b" fill-opacity="0.95" stroke="#1c1c1c" stroke-width="0.55"/>
<circle cx="588.07" cy="92.01" r="2.3" fill="#3b3b3b" fill-opacity="0.95" stroke="#1c1c1c" stroke-width="0.55"/>
<circle cx="577.64" cy="94.99" r="2.3" fill="#3b3b3b" fill-opacity="0.95" stroke="#1c1c1c" stroke-width="0.55"/>
<circle cx="593.53" cy="97.23" r="2.3" fill="#3b3b3b" fill-opacity="0.95" stroke="#1c1c1c" stroke-width="0.55"/>
<circle cx="584.34" cy="100.2" r="2.3" fill="#3b3b3b" fill-opacity="0.95" stroke="#1c1c1c" stroke-width="0.55"/>
<circle cx="588.81" cy="102.69" r="2.3" fill="#3b3b3b" fill-opacity="0.95" stroke="#1c1c1c" stroke-width="0.55"/>
<circle cx="579.88" cy="104.67" r="2.3" fill="#3b3b3b" fill-opacity="0.95" stroke="#1c1c1c" stroke-width="0.55"/>
<circle cx="590.8" cy="105.66" r="2.3" fill="#3b3b3b" fill-opacity="0.95" stroke="#1c1c1c" stroke-width="0.55"/>
<circle cx="582.36" cy="108.39" r="2.3" fill="#3b3b3b" fill-opacity="0.95" stroke="#1c1c1c" stroke-width="0.55"/>
<circle cx="586.58" cy="111.37" r="2.3" fill="#3b3b3b" fill-opacity="0.95" stroke="#1c1c1c" stroke-width="0.55"/>
<circle cx="579.63" cy="115.09" r="2.3" fill="#3b3b3b" fill-opacity="0.95" stroke="#1c1c1c" stroke-width="0.55"/>
<circle cx="591.29" cy="119.56" r="2.3" fill="#3b3b3b" fill-opacity="0.95" stroke="#1c1c1c" stroke-width="0.55"/>
<circle cx="585.09" cy="122.79" r="2.3" fill="#3b3b3b" fill-opacity="0.95" stroke="#1c1c1c" stroke-width="0.55"/>
<circle cx="587.57" cy="128.74" r="2.3" fill="#3b3b3b" fill-opacity="0.95" stroke="#1c1c1c" stroke-width="0.55"/>
<circle cx="583.1" cy="130.48" r="2.3" fill="#3b3b3b" fill-opacity="0.95" stroke="#1c1c1c" stroke-width="0.55"/>
<circle cx="588.07" cy="140.16" r="2.3" fill="#3b3b3b" fill-opacity="0.95" stroke="#1c1c1c" stroke-width="0.55"/>
<circle cx="584.09" cy="148.85" r="2.3" fill="#3b3b3b" fill-opacity="0.95" stroke="#1c1c1c" stroke-width="0.55"/>
<circle cx="586.58" cy="151.58" r="2.3" fill="#3b3b3b" fill-opacity="0.95" stroke="#1c1c1c" stroke-width="0.55"/>
<circle cx="582.11" cy="157.04" r="2.3" fill="#3b3b3b" fill-opacity="0.95" stroke="#1c1c1c" stroke-width="0.55"/>
<circle cx="588.56" cy="157.53" r="2.3" fill="#3b3b3b" fill-opacity="0.95" stroke="#1c1c1c" stroke-width="0.55"/>
<circle cx="585.58" cy="177.39" r="2.3" fill="#3b3b3b" fill-opacity="0.95" stroke="#1c1c1c" stroke-width="0.55"/>
<circle cx="581.61" cy="200.96" r="2.3" fill="#3b3b3b" fill-opacity="0.95" stroke="#1c1c1c" stroke-width="0.55"/>
<circle cx="583.35" cy="200.96" r="2.3" fill="#3b3b3b" fill-opacity="0.95" stroke="#1c1c1c" stroke-width="0.55"/>
<circle cx="585.09" cy="200.96" r="2.3" fill="#3b3b3b" fill-opacity="0.95" stroke="#1c1c1c" stroke-width="0.55"/>
<circle cx="586.82" cy="200.96" r="2.3" fill="#3b3b3b" fill-opacity="0.95" stroke="#1c1c1c" stroke-width="0.55"/>
<circle cx="588.56" cy="200.96" r="2.3" fill="#3b3b3b" fill-opacity="0.95" stroke="#1c1c1c" stroke-width="0.55"/>
<polygon points="645.15,80.48 648.35,86.18 641.95,86.18" fill="#333333" fill-opacity="0.95"/>
<polygon points="638.2,81.97 641.4,87.67 635,87.67" fill="#333333" fill-opacity="0.95"/>
<polygon points="641.42,88.42 644.62,94.12 638.22,94.12" fill="#333333" fill-opacity="0.95"/>
<polygon points="625.29,99.09 628.49,104.79 622.09,104.79" fill="#333333" fill-opacity="0.95"/>
<polygon points="626.53,102.07 629.73,107.77 623.33,107.77" fill="#333333" fill-opacity="0.95"/>
<polygon points="636.46,101.32 639.66,107.02 633.26,107.02" fill="#333333" fill-opacity="0.95"/>
<polygon points="646.39,101.82 649.59,107.52 643.19,107.52" fill="#333333" fill-opacity="0.95"/>
<polygon points="651.85,102.32 655.05,108.02 648.65,108.02" fill="#333333" fill-opacity="0.95"/>
<polygon points="655.82,99.83 659.02,105.53 652.62,105.53" fill="#333333" fill-opacity="0.95"/>
<polygon points="631.74,107.03 634.94,112.73 628.54,112.73" fill="#333333" fill-opacity="0.95"/>
<polygon points="623.31,111.75 626.51,117.45 620.11,117.45" fill="#333333" fill-opacity="0.95"/>
<polygon points="641.42,111.5 644.62,117.2 638.22,117.2" fill="#333333" fill-opacity="0.95"/>
<polygon points="655.82,111.99 659.02,117.69 652.62,117.69" fill="#333333" fill-opacity="0.95"/>
<polygon points="638.45,115.47 641.65,121.17 635.25,121.17" fill="#333333" fill-opacity="0.95"/>
<polygon points="645.64,115.72 648.84,121.42 642.44,121.42" fill="#333333" fill-opacity="0.95"/>
<polygon points="630.26,124.65 633.46,130.35 627.06,130.35" fill="#333333" fill-opacity="0.95"/>
<polygon points="651.1,126.39 654.3,132.09 647.9,132.09" fill="#333333" fill-opacity="0.95"/>
<polygon points="632.74,128.37 635.94,134.07 629.54,134.07" fill="#333333" fill-opacity="0.95"/>
<polygon points="621.07,130.86 624.27,136.56 617.87,136.56" fill="#333333" fill-opacity="0.95"/>
<polygon points="643.16,130.86 646.36,136.56 639.96,136.56" fill="#333333" fill-opacity="0.95"/>
<polygon points="656.56,132.35 659.76,138.05 653.36,138.05" fill="#333333" fill-opacity="0.95"/>
<polygon points="626.04,135.32 629.24,141.02 622.84,141.02" fill="#333333" fill-opacity="0.95"/>
<polygon points="635.47,135.32 638.67,141.02 632.27,141.02" fill="#333333" fill-opacity="0.95"/>
<polygon points="644.65,135.32 647.85,141.02 641.45,141.02" fill="#333333" fill-opacity="0.95"/>
<polygon points="641.67,174.04 644.87,179.74 638.47,179.74" fill="#333333" fill-opacity="0.95"/>
<polygon points="637.2,196.87 640.4,202.57 634,202.57" fill="#333333" fill-opacity="0.95"/>
<polygon points="640.43,196.87 643.63,202.57 637.23,202.57" fill="#333333" fill-opacity="0.95"/>
<line x1="512" x2="550" y1="133.3" y2="133.3" stroke="#000" stroke-width="1.5"/>
<line x1="566.8" x2="604.8" y1="97.3" y2="97.3" stroke="#000" stroke-width="1.5"/>
<line x1="621.2" x2="659.2" y1="118.9" y2="118.9" stroke="#000" stroke-width="1.5"/>
</g>
<g>
<circle cx="119.04" cy="362.12" r="2.3" fill="none" stroke="#333" stroke-width="0.6"/>
<circle cx="111.84" cy="368.07" r="2.3" fill="none" stroke="#333" stroke-width="0.6"/>
<circle cx="124.25" cy="376.51" r="2.3" fill="none" stroke="#333" stroke-width="0.6"/>
<circle cx="111.84" cy="380.73" r="2.3" fill="none" stroke="#333" stroke-width="0.6"/>
<circle cx="118.29" cy="381.97" r="2.3" fill="none" stroke="#333" stroke-width="0.6"/>
<circle cx="106.38" cy="385.2" r="2.3" fill="none" stroke="#333" stroke-width="0.6"/>
<circle cx="120.03" cy="397.11" r="2.3" fill="none" stroke="#333" stroke-width="0.6"/>
<circle cx="99.93" cy="417.71" r="2.3" fill="none" stroke="#333" stroke-width="0.6"/>
<circle cx="105.64" cy="417.71" r="2.3" fill="none" stroke="#333" stroke-width="0.6"/>
<circle cx="111.09" cy="417.71" r="2.3" fill="none" stroke="#333" stroke-width="0.6"/>
<circle cx="116.55" cy="417.71" r="2.3" fill="none" stroke="#333" stroke-width="0.6"/>
<circle cx="122.26" cy="417.71" r="2.3" fill="none" stroke="#333" stroke-width="0.6"/>
<circle cx="127.72" cy="417.71" r="2.3" fill="none" stroke="#333" stroke-width="0.6"/>
<circle cx="172.39" cy="294.36" r="2.3" fill="#3b3b3b" fill-opacity="0.95" stroke="#1c1c1c" stroke-width="0.55"/>
<circle cx="169.17" cy="324.39" r="2.3" fill="#3b3b3b" fill-opacity="0.95" stroke="#1c1c1c" stroke-width="0.55"/>
<circle cx="176.61" cy="333.08" r="2.3" fill="#3b3b3b" fill-opacity="0.95" stroke="#1c1c1c" stroke-width="0.55"/>
<circle cx="171.9" cy="338.54" r="2.3" fill="#3b3b3b" fill-opacity="0.95" stroke="#1c1c1c" stroke-width="0.55"/>
<circle cx="176.61" cy="346.23" r="2.3" fill="#3b3b3b" fill-opacity="0.95" stroke="#1c1c1c" stroke-width="0.55"/>
<circle cx="165.94" cy="348.72" r="2.3" fill="#3b3b3b" fill-opacity="0.95" stroke="#1c1c1c" stroke-width="0.55"/>
<circle cx="167.93" cy="351.2" r="2.3" fill="#3b3b3b" fill-opacity="0.95" stroke="#1c1c1c" stroke-width="0.55"/>
<circle cx="182.07" cy="351.2" r="2.3" fill="#3b3b3b" fill-opacity="0.95" stroke="#1c1c1c" stroke-width="0.55"/>
<circle cx="175.12" cy="353.68" r="2.3" fill="#3b3b3b" fill-opacity="0.95" stroke="#1c1c1c" stroke-width="0.55"/>
<circle cx="156.51" cy="358.39" r="2.3" fill="#3b3b3b" fill-opacity="0.95" stroke="#1c1c1c" stroke-width="0.55"/>
<circle cx="189.52" cy="360.88" r="2.3" fill="#3b3b3b" fill-opacity="0.95" stroke="#1c1c1c" stroke-width="0.55"/>
<circle cx="157.01" cy="362.86" r="2.3" fill="#3b3b3b" fill-opacity="0.95" stroke="#1c1c1c" stroke-width="0.55"/>
<circle cx="162.47" cy="364.1" r="2.3" fill="#3b3b3b" fill-opacity="0.95" stroke="#1c1c1c" stroke-width="0.55"/>
<circle cx="168.42" cy="362.86" r="2.3" fill="#3b3b3b" fill-opacity="0.95" stroke="#1c1c1c" stroke-width="0.55"/>
<circle cx="173.88" cy="364.6" r="2.3" fill="#3b3b3b" fill-opacity="0.95" stroke="#1c1c1c" stroke-width="0.55"/>
<circle cx="179.09" cy="363.61" r="2.3" fill="#3b3b3b" fill-opacity="0.95" stroke="#1c1c1c" stroke-width="0.55"/>
<circle cx="184.8" cy="364.1" r="2.3" fill="#3b3b3b" fill-opacity="0.95" stroke="#1c1c1c" stroke-width="0.55"/>
<circle cx="153.04" cy="368.32" r="2.3" fill="#3b3b3b" fill-opacity="0.95" stroke="#1c1c1c" stroke-width="0.55"/>
<circle cx="188.53" cy="370.8" r="2.3" fill="#3b3b3b" fill-opacity="0.95" stroke="#1c1c1c" stroke-width="0.55"/>
<circle cx="170.16" cy="374.53" r="2.3" fill="#3b3b3b" fill-opacity="0.95" stroke="#1c1c1c" stroke-width="0.55"/>
<circle cx="177.85" cy="375.27" r="2.3" fill="#3b3b3b" fill-opacity="0.95" stroke="#1c1c1c" stroke-width="0.55"/>
<circle cx="163.96" cy="376.76" r="2.3" fill="#3b3b3b" fill-opacity="0.95" stroke="#1c1c1c" stroke-width="0.55"/>
<circle cx="180.09" cy="378" r="2.3" fill="#3b3b3b" fill-opacity="0.95" stroke="#1c1c1c" stroke-width="0.55"/>
<circle cx="169.42" cy="385.2" r="2.3" fill="#3b3b3b" fill-opacity="0.95" stroke="#1c1c1c" stroke-width="0.55"/>
<circle cx="172.89" cy="390.66" r="2.3" fill="#3b3b3b" fill-opacity="0.95" stroke="#1c1c1c" stroke-width="0.55"/>
<circle cx="169.17" cy="399.34" r="2.3" fill="#3b3b3b" fill-opacity="0.95" stroke="#1c1c1c" stroke-width="0.55"/>
<circle cx="160.9" cy="417.96" r="2.3" fill="#3b3b3b" fill-opacity="0.95" stroke="#1c1c1c" stroke-width="0.55"/>
<circle cx="164.71" cy="417.96" r="2.3" fill="#3b3b3b" fill-opacity="0.95" stroke="#1c1c1c" stroke-width="0.55"/>
<circle cx="168.51" cy="417.96" r="2.3" fill="#3b3b3b" fill-opacity="0.95" stroke="#1c1c1c" stroke-width="0.55"/>
<circle cx="172.31" cy="417.96" r="2.3" fill="#3b3b3b" fill-opacity="0.95" stroke="#1c1c1c" stroke-width="0.55"/>
<circle cx="176.11" cy="417.96" r="2.3" fill="#3b3b3b" fill-opacity="0.95" stroke="#1c1c1c" stroke-width="0.55"/>
<circle cx="179.91" cy="417.96" r="2.3" fill="#3b3b3b" fill-opacity="0.95" stroke="#1c1c1c" stroke-width="0.55"/>
<circle cx="183.72" cy="417.96" r="2.3" fill="#3b3b3b" fill-opacity="0.95" stroke="#1c1c1c" stroke-width="0.55"/>
<polygon points="226.99,321.29 230.19,326.99 223.79,326.99" fill="#333333" fill-opacity="0.95"/>
<polygon points="228.98,330.48 232.18,336.18 225.78,336.18" fill="#333333" fill-opacity="0.95"/>
<polygon points="222.53,341.64 225.73,347.34 219.33,347.34" fill="#333333" fill-opacity="0.95"/>
<polygon points="235.18,346.11 238.38,351.81 231.98,351.81" fill="#333333" fill-opacity="0.95"/>
<polygon points="225.26,353.81 228.46,359.51 222.06,359.51" fill="#333333" fill-opacity="0.95"/>
<polygon points="232.7,354.3 235.9,360 229.5,360" fill="#333333" fill-opacity="0.95"/>
<polygon points="217.07,356.29 220.27,361.99 213.87,361.99" fill="#333333" fill-opacity="0.95"/>
<polygon points="220.79,358.52 223.99,364.22 217.59,364.22" fill="#333333" fill-opacity="0.95"/>
<polygon points="237.42,357.53 240.62,363.23 234.22,363.23" fill="#333333" fill-opacity="0.95"/>
<polygon points="212.85,363.73 216.05,369.43 209.65,369.43" fill="#333333" fill-opacity="0.95"/>
<polygon points="228.98,363.24 232.18,368.94 225.78,368.94" fill="#333333" fill-opacity="0.95"/>
<polygon points="240.89,367.21 244.09,372.91 237.69,372.91" fill="#333333" fill-opacity="0.95"/>
<polygon points="226.5,371.67 229.7,377.37 223.3,377.37" fill="#333333" fill-opacity="0.95"/>
<polygon points="221.53,375.15 224.73,380.85 218.33,380.85" fill="#333333" fill-opacity="0.95"/>
<polygon points="231.96,373.91 235.16,379.61 228.76,379.61" fill="#333333" fill-opacity="0.95"/>
<polygon points="230.47,387.06 233.67,392.76 227.27,392.76" fill="#333333" fill-opacity="0.95"/>
<polygon points="222.28,406.91 225.48,412.61 219.08,412.61" fill="#333333" fill-opacity="0.95"/>
<polygon points="208.63,413.86 211.83,419.56 205.43,419.56" fill="#333333" fill-opacity="0.95"/>
<polygon points="210.86,413.86 214.06,419.56 207.66,419.56" fill="#333333" fill-opacity="0.95"/>
<polygon points="216.82,413.86 220.02,419.56 213.62,419.56" fill="#333333" fill-opacity="0.95"/>
<polygon points="222.77,413.86 225.97,419.56 219.57,419.56" fill="#333333" fill-opacity="0.95"/>
<polygon points="228.48,413.86 231.68,419.56 225.28,419.56" fill="#333333" fill-opacity="0.95"/>
<polygon points="230.96,413.86 234.16,419.56 227.76,419.56" fill="#333333" fill-opacity="0.95"/>
<polygon points="233.2,413.86 236.4,419.56 230,419.56" fill="#333333" fill-opacity="0.95"/>
<polygon points="238.91,413.86 242.11,419.56 235.71,419.56" fill="#333333" fill-opacity="0.95"/>
<polygon points="244.86,413.86 248.06,419.56 241.66,419.56" fill="#333333" fill-opacity="0.95"/>
<line x1="97.55" x2="135.55" y1="397.16" y2="397.16" stroke="#000" stroke-width="1.5"/>
<line x1="153.64" x2="191.64" y1="364.4" y2="364.4" stroke="#000" stroke-width="1.5"/>
<line x1="208.86" x2="246.86" y1="376.81" y2="376.81" stroke="#000" stroke-width="1.5"/>
</g>
<g>
<circle cx="325.53" cy="347.97" r="2.3" fill="none" stroke="#333" stroke-width="0.6"/>
<circle cx="311.63" cy="365.59" r="2.3" fill="none" stroke="#333" stroke-width="0.6"/>
<circle cx="316.59" cy="365.59" r="2.3" fill="none" stroke="#333" stroke-width="0.6"/>
<circle cx="336.45" cy="365.59" r="2.3" fill="none" stroke="#333" stroke-width="0.6"/>
<circle cx="305.42" cy="372.54" r="2.3" fill="none" stroke="#333" stroke-width="0.6"/>
<circle cx="326.52" cy="372.04" r="2.3" fill="none" stroke="#333" stroke-width="0.6"/>
<circle cx="336.45" cy="377.5" r="2.3" fill="none" stroke="#333" stroke-width="0.6"/>
<circle cx="321.06" cy="382.72" r="2.3" fill="none" stroke="#333" stroke-width="0.6"/>
<circle cx="325.28" cy="400.09" r="2.3" fill="none" stroke="#333" stroke-width="0.6"/>
<circle cx="310.64" cy="417.71" r="2.3" fill="none" stroke="#333" stroke-width="0.6"/>
<circle cx="314.85" cy="417.71" r="2.3" fill="none" stroke="#333" stroke-width="0.6"/>
<circle cx="323.79" cy="417.71" r="2.3" fill="none" stroke="#333" stroke-width="0.6"/>
<circle cx="332.72" cy="417.71" r="2.3" fill="none" stroke="#333" stroke-width="0.6"/>
<circle cx="369.2" cy="317.69" r="2.3" fill="#3b3b3b" fill-opacity="0.95" stroke="#1c1c1c" stroke-width="0.55"/>
<circle cx="379.38" cy="315.71" r="2.3" fill="#3b3b3b" fill-opacity="0.95" stroke="#1c1c1c" stroke-width="0.55"/>
<circle cx="388.56" cy="318.19" r="2.3" fill="#3b3b3b" fill-opacity="0.95" stroke="#1c1c1c" stroke-width="0.55"/>
<circle cx="378.14" cy="319.43" r="2.3" fill="#3b3b3b" fill-opacity="0.95" stroke="#1c1c1c" stroke-width="0.55"/>
<circle cx="383.35" cy="323.4" r="2.3" fill="#3b3b3b" fill-opacity="0.95" stroke="#1c1c1c" stroke-width="0.55"/>
<circle cx="373.42" cy="331.84" r="2.3" fill="#3b3b3b" fill-opacity="0.95" stroke="#1c1c1c" stroke-width="0.55"/>
<circle cx="386.58" cy="333.33" r="2.3" fill="#3b3b3b" fill-opacity="0.95" stroke="#1c1c1c" stroke-width="0.55"/>
<circle cx="375.41" cy="335.31" r="2.3" fill="#3b3b3b" fill-opacity="0.95" stroke="#1c1c1c" stroke-width="0.55"/>
<circle cx="381.36" cy="336.31" r="2.3" fill="#3b3b3b" fill-opacity="0.95" stroke="#1c1c1c" stroke-width="0.55"/>
<circle cx="366.23" cy="342.51" r="2.3" fill="#3b3b3b" fill-opacity="0.95" stroke="#1c1c1c" stroke-width="0.55"/>
<circle cx="392.28" cy="343.26" r="2.3" fill="#3b3b3b" fill-opacity="0.95" stroke="#1c1c1c" stroke-width="0.55"/>
<circle cx="375.91" cy="344.5" r="2.3" fill="#3b3b3b" fill-opacity="0.95" stroke="#1c1c1c" stroke-width="0.55"/>
<circle cx="385.09" cy="347.23" r="2.3" fill="#3b3b3b" fill-opacity="0.95" stroke="#1c1c1c" stroke-width="0.55"/>
<circle cx="364.24" cy="349.71" r="2.3" fill="#3b3b3b" fill-opacity="0.95" stroke="#1c1c1c" stroke-width="0.55"/>
<circle cx="391.29" cy="349.96" r="2.3" fill="#3b3b3b" fill-opacity="0.95" stroke="#1c1c1c" stroke-width="0.55"/>
<circle cx="369.45" cy="351.69" r="2.3" fill="#3b3b3b" fill-opacity="0.95" stroke="#1c1c1c" stroke-width="0.55"/>
<circle cx="380.12" cy="352.69" r="2.3" fill="#3b3b3b" fill-opacity="0.95" stroke="#1c1c1c" stroke-width="0.55"/>
<circle cx="358.53" cy="353.43" r="2.3" fill="#3b3b3b" fill-opacity="0.95" stroke="#1c1c1c" stroke-width="0.55"/>
<circle cx="398.24" cy="353.43" r="2.3" fill="#3b3b3b" fill-opacity="0.95" stroke="#1c1c1c" stroke-width="0.55"/>
<circle cx="376.4" cy="355.66" r="2.3" fill="#3b3b3b" fill-opacity="0.95" stroke="#1c1c1c" stroke-width="0.55"/>
<circle cx="386.58" cy="356.41" r="2.3" fill="#3b3b3b" fill-opacity="0.95" stroke="#1c1c1c" stroke-width="0.55"/>
<circle cx="367.96" cy="357.9" r="2.3" fill="#3b3b3b" fill-opacity="0.95" stroke="#1c1c1c" stroke-width="0.55"/>
<circle cx="386.58" cy="362.12" r="2.3" fill="#3b3b3b" fill-opacity="0.95" stroke="#1c1c1c" stroke-width="0.55"/>
<circle cx="375.66" cy="364.6" r="2.3" fill="#3b3b3b" fill-opacity="0.95" stroke="#1c1c1c" stroke-width="0.55"/>
<circle cx="379.63" cy="371.3" r="2.3" fill="#3b3b3b" fill-opacity="0.95" stroke="#1c1c1c" stroke-width="0.55"/>
<circle cx="375.41" cy="383.96" r="2.3" fill="#3b3b3b" fill-opacity="0.95" stroke="#1c1c1c" stroke-width="0.55"/>
<circle cx="382.11" cy="387.43" r="2.3" fill="#3b3b3b" fill-opacity="0.95" stroke="#1c1c1c" stroke-width="0.55"/>
<circle cx="369.3" cy="417.96" r="2.3" fill="#3b3b3b" fill-opacity="0.95" stroke="#1c1c1c" stroke-width="0.55"/>
<circle cx="372.6" cy="417.96" r="2.3" fill="#3b3b3b" fill-opacity="0.95" stroke="#1c1c1c" stroke-width="0.55"/>
<circle cx="376" cy="417.96" r="2.3" fill="#3b3b3b" fill-opacity="0.95" stroke="#1c1c1c" stroke-width="0.55"/>
<circle cx="379.4" cy="417.96" r="2.3" fill="#3b3b3b" fill-opacity="0.95" stroke="#1c1c1c" stroke-width="0.55"/>
<circle cx="382.8" cy="417.96" r="2.3" fill="#3b3b3b" fill-opacity="0.95" stroke="#1c1c1c" stroke-width="0.55"/>
<circle cx="385.81" cy="417.96" r="2.3" fill="#3b3b3b" fill-opacity="0.95" stroke="#1c1c1c" stroke-width="0.55"/>
<polygon points="434.72,315.09 437.92,320.79 431.52,320.79" fill="#333333" fill-opacity="0.95"/>
<polygon points="430.75,324.27 433.95,329.97 427.55,329.97" fill="#333333" fill-opacity="0.95"/>
<polygon points="439.69,337.92 442.89,343.62 436.49,343.62" fill="#333333" fill-opacity="0.95"/>
<polygon points="432.74,340.4 435.94,346.1 429.54,346.1" fill="#333333" fill-opacity="0.95"/>
<polygon points="426.53,348.84 429.73,354.54 423.33,354.54" fill="#333333" fill-opacity="0.95"/>
<polygon points="437.2,348.35 440.4,354.05 434,354.05" fill="#333333" fill-opacity="0.95"/>
<polygon points="440.43,349.34 443.63,355.04 437.23,355.04" fill="#333333" fill-opacity="0.95"/>
<polygon points="429.01,357.03 432.21,362.73 425.81,362.73" fill="#333333" fill-opacity="0.95"/>
<polygon points="434.97,359.26 438.17,364.96 431.77,364.96" fill="#333333" fill-opacity="0.95"/>
<polygon points="423.55,361.25 426.75,366.95 420.35,366.95" fill="#333333" fill-opacity="0.95"/>
<polygon points="443.16,363.73 446.36,369.43 439.96,369.43" fill="#333333" fill-opacity="0.95"/>
<polygon points="433.23,369.19 436.43,374.89 430.03,374.89" fill="#333333" fill-opacity="0.95"/>
<polygon points="435.47,379.12 438.67,384.82 432.27,384.82" fill="#333333" fill-opacity="0.95"/>
<polygon points="431.74,395 434.94,400.7 428.54,400.7" fill="#333333" fill-opacity="0.95"/>
<polygon points="414.62,413.86 417.82,419.56 411.42,419.56" fill="#333333" fill-opacity="0.95"/>
<polygon points="416.61,413.86 419.81,419.56 413.41,419.56" fill="#333333" fill-opacity="0.95"/>
<polygon points="423.06,413.86 426.26,419.56 419.86,419.56" fill="#333333" fill-opacity="0.95"/>
<polygon points="425.04,413.86 428.24,419.56 421.84,419.56" fill="#333333" fill-opacity="0.95"/>
<polygon points="427.28,413.86 430.48,419.56 424.08,419.56" fill="#333333" fill-opacity="0.95"/>
<polygon points="429.01,413.86 432.21,419.56 425.81,419.56" fill="#333333" fill-opacity="0.95"/>
<polygon points="433.98,413.86 437.18,419.56 430.78,419.56" fill="#333333" fill-opacity="0.95"/>
<polygon points="435.96,413.86 439.16,419.56 432.76,419.56" fill="#333333" fill-opacity="0.95"/>
<polygon points="438.2,413.86 441.4,419.56 435,419.56" fill="#333333" fill-opacity="0.95"/>
<polygon points="440.18,413.86 443.38,419.56 436.98,419.56" fill="#333333" fill-opacity="0.95"/>
<polygon points="444.9,413.86 448.1,419.56 441.7,419.56" fill="#333333" fill-opacity="0.95"/>
<polygon points="446.88,413.86 450.08,419.56 443.68,419.56" fill="#333333" fill-opacity="0.95"/>
<polygon points="448.87,413.86 452.07,419.56 445.67,419.56" fill="#333333" fill-opacity="0.95"/>
<polygon points="450.85,413.86 454.05,419.56 447.65,419.56" fill="#333333" fill-opacity="0.95"/>
<line x1="304.79" x2="342.79" y1="377.8" y2="377.8" stroke="#000" stroke-width="1.5"/>
<line x1="360.05" x2="398.05" y1="353.23" y2="353.23" stroke="#000" stroke-width="1.5"/>
<line x1="415.23" x2="453.23" y1="383.26" y2="383.26" stroke="#000" stroke-width="1.5"/>
</g>
<g>
<circle cx="531.02" cy="327.87" r="2.3" fill="none" stroke="#333" stroke-width="0.6"/>
<circle cx="519.11" cy="358.64" r="2.3" fill="none" stroke="#333" stroke-width="0.6"/>
<circle cx="540.95" cy="359.88" r="2.3" fill="none" stroke="#333" stroke-width="0.6"/>
<circle cx="521.34" cy="366.58" r="2.3" fill="none" stroke="#333" stroke-width="0.6"/>
<circle cx="510.92" cy="368.57" r="2.3" fill="none" stroke="#333" stroke-width="0.6"/>
<circle cx="532.01" cy="368.32" r="2.3" fill="none" stroke="#333" stroke-width="0.6"/>
<circle cx="544.67" cy="369.31" r="2.3" fill="none" stroke="#333" stroke-width="0.6"/>
<circle cx="528.29" cy="388.42" r="2.3" fill="none" stroke="#333" stroke-width="0.6"/>
<circle cx="532.01" cy="405.3" r="2.3" fill="none" stroke="#333" stroke-width="0.6"/>
<circle cx="515.88" cy="417.71" r="2.3" fill="none" stroke="#333" stroke-width="0.6"/>
<circle cx="520.35" cy="417.71" r="2.3" fill="none" stroke="#333" stroke-width="0.6"/>
<circle cx="529.53" cy="417.71" r="2.3" fill="none" stroke="#333" stroke-width="0.6"/>
<circle cx="538.22" cy="417.71" r="2.3" fill="none" stroke="#333" stroke-width="0.6"/>
<circle cx="584.38" cy="322.66" r="2.3" fill="#3b3b3b" fill-opacity="0.95" stroke="#1c1c1c" stroke-width="0.55"/>
<circle cx="580.91" cy="329.61" r="2.3" fill="#3b3b3b" fill-opacity="0.95" stroke="#1c1c1c" stroke-width="0.55"/>
<circle cx="593.31" cy="338.04" r="2.3" fill="#3b3b3b" fill-opacity="0.95" stroke="#1c1c1c" stroke-width="0.55"/>
<circle cx="583.39" cy="340.53" r="2.3" fill="#3b3b3b" fill-opacity="0.95" stroke="#1c1c1c" stroke-width="0.55"/>
<circle cx="591.33" cy="342.26" r="2.3" fill="#3b3b3b" fill-opacity="0.95" stroke="#1c1c1c" stroke-width="0.55"/>
<circle cx="575.2" cy="342.51" r="2.3" fill="#3b3b3b" fill-opacity="0.95" stroke="#1c1c1c" stroke-width="0.55"/>
<circle cx="578.42" cy="345.49" r="2.3" fill="#3b3b3b" fill-opacity="0.95" stroke="#1c1c1c" stroke-width="0.55"/>
<circle cx="596.79" cy="344.74" r="2.3" fill="#3b3b3b" fill-opacity="0.95" stroke="#1c1c1c" stroke-width="0.55"/>
<circle cx="587.85" cy="346.98" r="2.3" fill="#3b3b3b" fill-opacity="0.95" stroke="#1c1c1c" stroke-width="0.55"/>
<circle cx="569.74" cy="349.71" r="2.3" fill="#3b3b3b" fill-opacity="0.95" stroke="#1c1c1c" stroke-width="0.55"/>
<circle cx="581.15" cy="350.7" r="2.3" fill="#3b3b3b" fill-opacity="0.95" stroke="#1c1c1c" stroke-width="0.55"/>
<circle cx="589.84" cy="350.95" r="2.3" fill="#3b3b3b" fill-opacity="0.95" stroke="#1c1c1c" stroke-width="0.55"/>
<circle cx="598.77" cy="349.96" r="2.3" fill="#3b3b3b" fill-opacity="0.95" stroke="#1c1c1c" stroke-width="0.55"/>
<circle cx="573.46" cy="355.42" r="2.3" fill="#3b3b3b" fill-opacity="0.95" stroke="#1c1c1c" stroke-width="0.55"/>
<circle cx="594.06" cy="356.16" r="2.3" fill="#3b3b3b" fill-opacity="0.95" stroke="#1c1c1c" stroke-width="0.55"/>
<circle cx="575.45" cy="358.64" r="2.3" fill="#3b3b3b" fill-opacity="0.95" stroke="#1c1c1c" stroke-width="0.55"/>
<circle cx="563.78" cy="360.88" r="2.3" fill="#3b3b3b" fill-opacity="0.95" stroke="#1c1c1c" stroke-width="0.55"/>
<circle cx="581.65" cy="361.62" r="2.3" fill="#3b3b3b" fill-opacity="0.95" stroke="#1c1c1c" stroke-width="0.55"/>
<circle cx="585.62" cy="360.63" r="2.3" fill="#3b3b3b" fill-opacity="0.95" stroke="#1c1c1c" stroke-width="0.55"/>
<circle cx="592.82" cy="361.37" r="2.3" fill="#3b3b3b" fill-opacity="0.95" stroke="#1c1c1c" stroke-width="0.55"/>
<circle cx="603.74" cy="360.88" r="2.3" fill="#3b3b3b" fill-opacity="0.95" stroke="#1c1c1c" stroke-width="0.55"/>
<circle cx="572.96" cy="365.84" r="2.3" fill="#3b3b3b" fill-opacity="0.95" stroke="#1c1c1c" stroke-width="0.55"/>
<circle cx="595.55" cy="366.58" r="2.3" fill="#3b3b3b" fill-opacity="0.95" stroke="#1c1c1c" stroke-width="0.55"/>
<circle cx="578.92" cy="368.32" r="2.3" fill="#3b3b3b" fill-opacity="0.95" stroke="#1c1c1c" stroke-width="0.55"/>
<circle cx="586.12" cy="368.82" r="2.3" fill="#3b3b3b" fill-opacity="0.95" stroke="#1c1c1c" stroke-width="0.55"/>
<circle cx="572.47" cy="369.56" r="2.3" fill="#3b3b3b" fill-opacity="0.95" stroke="#1c1c1c" stroke-width="0.55"/>
<circle cx="586.86" cy="380.23" r="2.3" fill="#3b3b3b" fill-opacity="0.95" stroke="#1c1c1c" stroke-width="0.55"/>
<circle cx="583.64" cy="387.43" r="2.3" fill="#3b3b3b" fill-opacity="0.95" stroke="#1c1c1c" stroke-width="0.55"/>
<circle cx="573.71" cy="417.71" r="2.3" fill="#3b3b3b" fill-opacity="0.95" stroke="#1c1c1c" stroke-width="0.55"/>
<circle cx="577.43" cy="417.71" r="2.3" fill="#3b3b3b" fill-opacity="0.95" stroke="#1c1c1c" stroke-width="0.55"/>
<circle cx="584.63" cy="417.71" r="2.3" fill="#3b3b3b" fill-opacity="0.95" stroke="#1c1c1c" stroke-width="0.55"/>
<circle cx="588.1" cy="417.71" r="2.3" fill="#3b3b3b" fill-opacity="0.95" stroke="#1c1c1c" stroke-width="0.55"/>
<circle cx="591.58" cy="417.71" r="2.3" fill="#3b3b3b" fill-opacity="0.95" stroke="#1c1c1c" stroke-width="0.55"/>
<polygon points="640.96,318.07 644.16,323.77 637.76,323.77" fill="#333333" fill-opacity="0.95"/>
<polygon points="631.53,319.81 634.73,325.51 628.33,325.51" fill="#333333" fill-opacity="0.95"/>
<polygon points="648.16,325.76 651.36,331.46 644.96,331.46" fill="#333333" fill-opacity="0.95"/>
<polygon points="636.74,333.45 639.94,339.15 633.54,339.15" fill="#333333" fill-opacity="0.95"/>
<polygon points="626.32,341.15 629.52,346.85 623.12,346.85" fill="#333333" fill-opacity="0.95"/>
<polygon points="644.93,340.4 648.13,346.1 641.73,346.1" fill="#333333" fill-opacity="0.95"/>
<polygon points="650.89,344.37 654.09,350.07 647.69,350.07" fill="#333333" fill-opacity="0.95"/>
<polygon points="630.04,346.36 633.24,352.06 626.84,352.06" fill="#333333" fill-opacity="0.95"/>
<polygon points="640.72,349.34 643.92,355.04 637.52,355.04" fill="#333333" fill-opacity="0.95"/>
<polygon points="620.36,352.07 623.56,357.77 617.16,357.77" fill="#333333" fill-opacity="0.95"/>
<polygon points="656.35,353.56 659.55,359.26 653.15,359.26" fill="#333333" fill-opacity="0.95"/>
<polygon points="636.99,356.54 640.19,362.24 633.79,362.24" fill="#333333" fill-opacity="0.95"/>
<polygon points="644.69,364.23 647.89,369.93 641.49,369.93" fill="#333333" fill-opacity="0.95"/>
<polygon points="630.54,367.7 633.74,373.4 627.34,373.4" fill="#333333" fill-opacity="0.95"/>
<polygon points="647.91,369.44 651.11,375.14 644.71,375.14" fill="#333333" fill-opacity="0.95"/>
<polygon points="634.76,374.4 637.96,380.1 631.56,380.1" fill="#333333" fill-opacity="0.95"/>
<polygon points="632.28,385.57 635.48,391.27 629.08,391.27" fill="#333333" fill-opacity="0.95"/>
<polygon points="640.22,385.32 643.42,391.02 637.02,391.02" fill="#333333" fill-opacity="0.95"/>
<polygon points="622.85,413.86 626.05,419.56 619.65,419.56" fill="#333333" fill-opacity="0.95"/>
<polygon points="628.31,413.86 631.51,419.56 625.11,419.56" fill="#333333" fill-opacity="0.95"/>
<polygon points="633.77,413.86 636.97,419.56 630.57,419.56" fill="#333333" fill-opacity="0.95"/>
<polygon points="639.23,413.86 642.43,419.56 636.03,419.56" fill="#333333" fill-opacity="0.95"/>
<polygon points="644.69,413.86 647.89,419.56 641.49,419.56" fill="#333333" fill-opacity="0.95"/>
<polygon points="650.15,413.86 653.35,419.56 646.95,419.56" fill="#333333" fill-opacity="0.95"/>
<polygon points="655.61,413.86 658.81,419.56 652.41,419.56" fill="#333333" fill-opacity="0.95"/>
<line x1="510.41" x2="548.41" y1="369.37" y2="369.37" stroke="#000" stroke-width="1.5"/>
<line x1="565.15" x2="603.15" y1="360.93" y2="360.93" stroke="#000" stroke-width="1.5"/>
<line x1="620.23" x2="658.23" y1="368.12" y2="368.12" stroke="#000" stroke-width="1.5"/>
</g>
<g>
<circle cx="114.07" cy="544.87" r="2.3" fill="none" stroke="#333" stroke-width="0.6"/>
<circle cx="116.55" cy="555.04" r="2.3" fill="none" stroke="#333" stroke-width="0.6"/>
<circle cx="103.15" cy="558.77" r="2.3" fill="none" stroke="#333" stroke-width="0.6"/>
<circle cx="114.07" cy="562.99" r="2.3" fill="none" stroke="#333" stroke-width="0.6"/>
<circle cx="129.46" cy="562.49" r="2.3" fill="none" stroke="#333" stroke-width="0.6"/>
<circle cx="102.91" cy="572.17" r="2.3" fill="none" stroke="#333" stroke-width="0.6"/>
<circle cx="124.25" cy="571.92" r="2.3" fill="none" stroke="#333" stroke-width="0.6"/>
<circle cx="107.87" cy="575.15" r="2.3" fill="none" stroke="#333" stroke-width="0.6"/>
<circle cx="129.71" cy="573.16" r="2.3" fill="none" stroke="#333" stroke-width="0.6"/>
<circle cx="118.54" cy="577.38" r="2.3" fill="none" stroke="#333" stroke-width="0.6"/>
<circle cx="101.66" cy="580.11" r="2.3" fill="none" stroke="#333" stroke-width="0.6"/>
<circle cx="125.99" cy="586.31" r="2.3" fill="none" stroke="#333" stroke-width="0.6"/>
<circle cx="112.83" cy="590.28" r="2.3" fill="none" stroke="#333" stroke-width="0.6"/>
<circle cx="119.28" cy="592.77" r="2.3" fill="none" stroke="#333" stroke-width="0.6"/>
<circle cx="109.36" cy="597.23" r="2.3" fill="none" stroke="#333" stroke-width="0.6"/>
<circle cx="109.85" cy="634.46" r="2.3" fill="none" stroke="#333" stroke-width="0.6"/>
<circle cx="116.31" cy="634.46" r="2.3" fill="none" stroke="#333" stroke-width="0.6"/>
<circle cx="122.51" cy="634.46" r="2.3" fill="none" stroke="#333" stroke-width="0.6"/>
<circle cx="169.42" cy="523.03" r="2.3" fill="#3b3b3b" fill-opacity="0.95" stroke="#1c1c1c" stroke-width="0.55"/>
<circle cx="174.13" cy="521.54" r="2.3" fill="#3b3b3b" fill-opacity="0.95" stroke="#1c1c1c" stroke-width="0.55"/>
<circle cx="164.95" cy="532.21" r="2.3" fill="#3b3b3b" fill-opacity="0.95" stroke="#1c1c1c" stroke-width="0.55"/>
<circle cx="171.9" cy="530.97" r="2.3" fill="#3b3b3b" fill-opacity="0.95" stroke="#1c1c1c" stroke-width="0.55"/>
<circle cx="178.35" cy="536.18" r="2.3" fill="#3b3b3b" fill-opacity="0.95" stroke="#1c1c1c" stroke-width="0.55"/>
<circle cx="168.42" cy="537.92" r="2.3" fill="#3b3b3b" fill-opacity="0.95" stroke="#1c1c1c" stroke-width="0.55"/>
<circle cx="174.38" cy="539.16" r="2.3" fill="#3b3b3b" fill-opacity="0.95" stroke="#1c1c1c" stroke-width="0.55"/>
<circle cx="162.47" cy="541.39" r="2.3" fill="#3b3b3b" fill-opacity="0.95" stroke="#1c1c1c" stroke-width="0.55"/>
<circle cx="177.36" cy="542.14" r="2.3" fill="#3b3b3b" fill-opacity="0.95" stroke="#1c1c1c" stroke-width="0.55"/>
<circle cx="164.45" cy="545.86" r="2.3" fill="#3b3b3b" fill-opacity="0.95" stroke="#1c1c1c" stroke-width="0.55"/>
<circle cx="171.4" cy="546.85" r="2.3" fill="#3b3b3b" fill-opacity="0.95" stroke="#1c1c1c" stroke-width="0.55"/>
<circle cx="155.77" cy="548.09" r="2.3" fill="#3b3b3b" fill-opacity="0.95" stroke="#1c1c1c" stroke-width="0.55"/>
<circle cx="185.55" cy="548.34" r="2.3" fill="#3b3b3b" fill-opacity="0.95" stroke="#1c1c1c" stroke-width="0.55"/>
<circle cx="169.91" cy="549.58" r="2.3" fill="#3b3b3b" fill-opacity="0.95" stroke="#1c1c1c" stroke-width="0.55"/>
<circle cx="177.61" cy="550.58" r="2.3" fill="#3b3b3b" fill-opacity="0.95" stroke="#1c1c1c" stroke-width="0.55"/>
<circle cx="162.47" cy="552.56" r="2.3" fill="#3b3b3b" fill-opacity="0.95" stroke="#1c1c1c" stroke-width="0.55"/>
<circle cx="181.33" cy="555.54" r="2.3" fill="#3b3b3b" fill-opacity="0.95" stroke="#1c1c1c" stroke-width="0.55"/>
<circle cx="166.19" cy="556.53" r="2.3" fill="#3b3b3b" fill-opacity="0.95" stroke="#1c1c1c" stroke-width="0.55"/>
<circle cx="174.38" cy="557.03" r="2.3" fill="#3b3b3b" fill-opacity="0.95" stroke="#1c1c1c" stroke-width="0.55"/>
<circle cx="157.5" cy="558.27" r="2.3" fill="#3b3b3b" fill-opacity="0.95" stroke="#1c1c1c" stroke-width="0.55"/>
<circle cx="184.31" cy="559.01" r="2.3" fill="#3b3b3b" fill-opacity="0.95" stroke="#1c1c1c" stroke-width="0.55"/>
<circle cx="161.97" cy="560.01" r="2.3" fill="#3b3b3b" fill-opacity="0.95" stroke="#1c1c1c" stroke-width="0.55"/>
<circle cx="167.68" cy="561.25" r="2.3" fill="#3b3b3b" fill-opacity="0.95" stroke="#1c1c1c" stroke-width="0.55"/>
<circle cx="177.36" cy="561.99" r="2.3" fill="#3b3b3b" fill-opacity="0.95" stroke="#1c1c1c" stroke-width="0.55"/>
<circle cx="157.75" cy="564.72" r="2.3" fill="#3b3b3b" fill-opacity="0.95" stroke="#1c1c1c" stroke-width="0.55"/>
<circle cx="183.31" cy="566.21" r="2.3" fill="#3b3b3b" fill-opacity="0.95" stroke="#1c1c1c" stroke-width="0.55"/>
<circle cx="150.55" cy="567.95" r="2.3" fill="#3b3b3b" fill-opacity="0.95" stroke="#1c1c1c" stroke-width="0.55"/>
<circle cx="161.47" cy="566.96" r="2.3" fill="#3b3b3b" fill-opacity="0.95" stroke="#1c1c1c" stroke-width="0.55"/>
<circle cx="172.39" cy="567.45" r="2.3" fill="#3b3b3b" fill-opacity="0.95" stroke="#1c1c1c" stroke-width="0.55"/>
<circle cx="190.51" cy="568.45" r="2.3" fill="#3b3b3b" fill-opacity="0.95" stroke="#1c1c1c" stroke-width="0.55"/>
<circle cx="178.85" cy="568.69" r="2.3" fill="#3b3b3b" fill-opacity="0.95" stroke="#1c1c1c" stroke-width="0.55"/>
<circle cx="168.18" cy="568.69" r="2.3" fill="#3b3b3b" fill-opacity="0.95" stroke="#1c1c1c" stroke-width="0.55"/>
<circle cx="159.49" cy="571.42" r="2.3" fill="#3b3b3b" fill-opacity="0.95" stroke="#1c1c1c" stroke-width="0.55"/>
<circle cx="165.2" cy="572.66" r="2.3" fill="#3b3b3b" fill-opacity="0.95" stroke="#1c1c1c" stroke-width="0.55"/>
<circle cx="182.07" cy="571.92" r="2.3" fill="#3b3b3b" fill-opacity="0.95" stroke="#1c1c1c" stroke-width="0.55"/>
<circle cx="171.9" cy="576.88" r="2.3" fill="#3b3b3b" fill-opacity="0.95" stroke="#1c1c1c" stroke-width="0.55"/>
<circle cx="165.69" cy="579.12" r="2.3" fill="#3b3b3b" fill-opacity="0.95" stroke="#1c1c1c" stroke-width="0.55"/>
<circle cx="175.37" cy="586.07" r="2.3" fill="#3b3b3b" fill-opacity="0.95" stroke="#1c1c1c" stroke-width="0.55"/>
<circle cx="169.42" cy="587.55" r="2.3" fill="#3b3b3b" fill-opacity="0.95" stroke="#1c1c1c" stroke-width="0.55"/>
<circle cx="172.64" cy="590.53" r="2.3" fill="#3b3b3b" fill-opacity="0.95" stroke="#1c1c1c" stroke-width="0.55"/>
<circle cx="169.17" cy="615.35" r="2.3" fill="#3b3b3b" fill-opacity="0.95" stroke="#1c1c1c" stroke-width="0.55"/>
<circle cx="167.68" cy="634.46" r="2.3" fill="#3b3b3b" fill-opacity="0.95" stroke="#1c1c1c" stroke-width="0.55"/>
<circle cx="171.15" cy="634.46" r="2.3" fill="#3b3b3b" fill-opacity="0.95" stroke="#1c1c1c" stroke-width="0.55"/>
<circle cx="174.63" cy="634.46" r="2.3" fill="#3b3b3b" fill-opacity="0.95" stroke="#1c1c1c" stroke-width="0.55"/>
<polygon points="224.26,532.59 227.46,538.29 221.06,538.29" fill="#333333" fill-opacity="0.95"/>
<polygon points="226.99,534.57 230.19,540.27 223.79,540.27" fill="#333333" fill-opacity="0.95"/>
<polygon points="216.32,550.7 219.52,556.4 213.12,556.4" fill="#333333" fill-opacity="0.95"/>
<polygon points="238.16,553.43 241.36,559.13 234.96,559.13" fill="#333333" fill-opacity="0.95"/>
<polygon points="223.02,554.18 226.22,559.88 219.82,559.88" fill="#333333" fill-opacity="0.95"/>
<polygon points="230.47,554.43 233.67,560.13 227.27,560.13" fill="#333333" fill-opacity="0.95"/>
<polygon points="212.6,559.39 215.8,565.09 209.4,565.09" fill="#333333" fill-opacity="0.95"/>
<polygon points="238.16,562.62 241.36,568.32 234.96,568.32" fill="#333333" fill-opacity="0.95"/>
<polygon points="216.07,563.61 219.27,569.31 212.87,569.31" fill="#333333" fill-opacity="0.95"/>
<polygon points="227.24,564.1 230.44,569.8 224.04,569.8" fill="#333333" fill-opacity="0.95"/>
<polygon points="205.4,565.35 208.6,571.05 202.2,571.05" fill="#333333" fill-opacity="0.95"/>
<polygon points="245.11,566.34 248.31,572.04 241.91,572.04" fill="#333333" fill-opacity="0.95"/>
<polygon points="223.52,567.83 226.72,573.53 220.32,573.53" fill="#333333" fill-opacity="0.95"/>
<polygon points="233.2,570.81 236.4,576.51 230,576.51" fill="#333333" fill-opacity="0.95"/>
<polygon points="214.58,572.05 217.78,577.75 211.38,577.75" fill="#333333" fill-opacity="0.95"/>
<polygon points="234.69,577.26 237.89,582.96 231.49,582.96" fill="#333333" fill-opacity="0.95"/>
<polygon points="221.28,578 224.48,583.7 218.08,583.7" fill="#333333" fill-opacity="0.95"/>
<polygon points="227.49,580.48 230.69,586.18 224.29,586.18" fill="#333333" fill-opacity="0.95"/>
<polygon points="220.79,591.65 223.99,597.35 217.59,597.35" fill="#333333" fill-opacity="0.95"/>
<polygon points="230.47,594.63 233.67,600.33 227.27,600.33" fill="#333333" fill-opacity="0.95"/>
<polygon points="224.76,604.31 227.96,610.01 221.56,610.01" fill="#333333" fill-opacity="0.95"/>
<polygon points="226.99,613.74 230.19,619.44 223.79,619.44" fill="#333333" fill-opacity="0.95"/>
<polygon points="217.81,630.62 221.01,636.32 214.61,636.32" fill="#333333" fill-opacity="0.95"/>
<polygon points="220.79,630.62 223.99,636.32 217.59,636.32" fill="#333333" fill-opacity="0.95"/>
<polygon points="226,630.62 229.2,636.32 222.8,636.32" fill="#333333" fill-opacity="0.95"/>
<polygon points="231.46,630.62 234.66,636.32 228.26,636.32" fill="#333333" fill-opacity="0.95"/>
<line x1="96.93" x2="134.93" y1="576.44" y2="576.44" stroke="#000" stroke-width="1.5"/>
<line x1="152.03" x2="190.03" y1="561.42" y2="561.42" stroke="#000" stroke-width="1.5"/>
<line x1="206.75" x2="244.75" y1="573.46" y2="573.46" stroke="#000" stroke-width="1.5"/>
</g>
<g>
<circle cx="328.26" cy="562.99" r="2.3" fill="none" stroke="#333" stroke-width="0.6"/>
<circle cx="320.81" cy="566.96" r="2.3" fill="none" stroke="#333" stroke-width="0.6"/>
<circle cx="325.03" cy="569.93" r="2.3" fill="none" stroke="#333" stroke-width="0.6"/>
<circle cx="315.85" cy="574.15" r="2.3" fill="none" stroke="#333" stroke-width="0.6"/>
<circle cx="331.98" cy="580.36" r="2.3" fill="none" stroke="#333" stroke-width="0.6"/>
<circle cx="323.54" cy="584.33" r="2.3" fill="none" stroke="#333" stroke-width="0.6"/>
<circle cx="326.27" cy="590.28" r="2.3" fill="none" stroke="#333" stroke-width="0.6"/>
<circle cx="320.07" cy="612.37" r="2.3" fill="none" stroke="#333" stroke-width="0.6"/>
<circle cx="329.5" cy="614.85" r="2.3" fill="none" stroke="#333" stroke-width="0.6"/>
<circle cx="321.31" cy="616.84" r="2.3" fill="none" stroke="#333" stroke-width="0.6"/>
<circle cx="305.42" cy="634.46" r="2.3" fill="none" stroke="#333" stroke-width="0.6"/>
<circle cx="308.15" cy="634.46" r="2.3" fill="none" stroke="#333" stroke-width="0.6"/>
<circle cx="313.36" cy="634.46" r="2.3" fill="none" stroke="#333" stroke-width="0.6"/>
<circle cx="318.82" cy="634.46" r="2.3" fill="none" stroke="#333" stroke-width="0.6"/>
<circle cx="324.53" cy="634.46" r="2.3" fill="none" stroke="#333" stroke-width="0.6"/>
<circle cx="326.77" cy="634.46" r="2.3" fill="none" stroke="#333" stroke-width="0.6"/>
<circle cx="329.5" cy="634.46" r="2.3" fill="none" stroke="#333" stroke-width="0.6"/>
<circle cx="335.2" cy="634.46" r="2.3" fill="none" stroke="#333" stroke-width="0.6"/>
<circle cx="341.16" cy="634.46" r="2.3" fill="none" stroke="#333" stroke-width="0.6"/>
<circle cx="378.88" cy="511.36" r="2.3" fill="#3b3b3b" fill-opacity="0.95" stroke="#1c1c1c" stroke-width="0.55"/>
<circle cx="379.63" cy="547.85" r="2.3" fill="#3b3b3b" fill-opacity="0.95" stroke="#1c1c1c" stroke-width="0.55"/>
<circle cx="377.39" cy="555.79" r="2.3" fill="#3b3b3b" fill-opacity="0.95" stroke="#1c1c1c" stroke-width="0.55"/>
<circle cx="377.39" cy="571.42" r="2.3" fill="#3b3b3b" fill-opacity="0.95" stroke="#1c1c1c" stroke-width="0.55"/>
<circle cx="386.33" cy="571.18" r="2.3" fill="#3b3b3b" fill-opacity="0.95" stroke="#1c1c1c" stroke-width="0.55"/>
<circle cx="371.93" cy="573.91" r="2.3" fill="#3b3b3b" fill-opacity="0.95" stroke="#1c1c1c" stroke-width="0.55"/>
<circle cx="382.36" cy="573.66" r="2.3" fill="#3b3b3b" fill-opacity="0.95" stroke="#1c1c1c" stroke-width="0.55"/>
<circle cx="373.92" cy="576.88" r="2.3" fill="#3b3b3b" fill-opacity="0.95" stroke="#1c1c1c" stroke-width="0.55"/>
<circle cx="384.84" cy="575.39" r="2.3" fill="#3b3b3b" fill-opacity="0.95" stroke="#1c1c1c" stroke-width="0.55"/>
<circle cx="379.88" cy="581.1" r="2.3" fill="#3b3b3b" fill-opacity="0.95" stroke="#1c1c1c" stroke-width="0.55"/>
<circle cx="367.22" cy="582.34" r="2.3" fill="#3b3b3b" fill-opacity="0.95" stroke="#1c1c1c" stroke-width="0.55"/>
<circle cx="391.54" cy="584.82" r="2.3" fill="#3b3b3b" fill-opacity="0.95" stroke="#1c1c1c" stroke-width="0.55"/>
<circle cx="378.64" cy="586.31" r="2.3" fill="#3b3b3b" fill-opacity="0.95" stroke="#1c1c1c" stroke-width="0.55"/>
<circle cx="371.19" cy="590.28" r="2.3" fill="#3b3b3b" fill-opacity="0.95" stroke="#1c1c1c" stroke-width="0.55"/>
<circle cx="386.33" cy="589.79" r="2.3" fill="#3b3b3b" fill-opacity="0.95" stroke="#1c1c1c" stroke-width="0.55"/>
<circle cx="374.66" cy="592.27" r="2.3" fill="#3b3b3b" fill-opacity="0.95" stroke="#1c1c1c" stroke-width="0.55"/>
<circle cx="382.36" cy="592.27" r="2.3" fill="#3b3b3b" fill-opacity="0.95" stroke="#1c1c1c" stroke-width="0.55"/>
<circle cx="389.55" cy="591.28" r="2.3" fill="#3b3b3b" fill-opacity="0.95" stroke="#1c1c1c" stroke-width="0.55"/>
<circle cx="367.22" cy="594.75" r="2.3" fill="#3b3b3b" fill-opacity="0.95" stroke="#1c1c1c" stroke-width="0.55"/>
<circle cx="376.9" cy="596.74" r="2.3" fill="#3b3b3b" fill-opacity="0.95" stroke="#1c1c1c" stroke-width="0.55"/>
<circle cx="391.04" cy="596.74" r="2.3" fill="#3b3b3b" fill-opacity="0.95" stroke="#1c1c1c" stroke-width="0.55"/>
<circle cx="371.19" cy="601.2" r="2.3" fill="#3b3b3b" fill-opacity="0.95" stroke="#1c1c1c" stroke-width="0.55"/>
<circle cx="383.1" cy="601.7" r="2.3" fill="#3b3b3b" fill-opacity="0.95" stroke="#1c1c1c" stroke-width="0.55"/>
<circle cx="385.34" cy="604.43" r="2.3" fill="#3b3b3b" fill-opacity="0.95" stroke="#1c1c1c" stroke-width="0.55"/>
<circle cx="375.41" cy="605.42" r="2.3" fill="#3b3b3b" fill-opacity="0.95" stroke="#1c1c1c" stroke-width="0.55"/>
<circle cx="379.88" cy="606.66" r="2.3" fill="#3b3b3b" fill-opacity="0.95" stroke="#1c1c1c" stroke-width="0.55"/>
<circle cx="376.4" cy="615.35" r="2.3" fill="#3b3b3b" fill-opacity="0.95" stroke="#1c1c1c" stroke-width="0.55"/>
<circle cx="360.02" cy="634.46" r="2.3" fill="#3b3b3b" fill-opacity="0.95" stroke="#1c1c1c" stroke-width="0.55"/>
<circle cx="362.2" cy="634.46" r="2.3" fill="#3b3b3b" fill-opacity="0.95" stroke="#1c1c1c" stroke-width="0.55"/>
<circle cx="364.38" cy="634.46" r="2.3" fill="#3b3b3b" fill-opacity="0.95" stroke="#1c1c1c" stroke-width="0.55"/>
<circle cx="366.56" cy="634.46" r="2.3" fill="#3b3b3b" fill-opacity="0.95" stroke="#1c1c1c" stroke-width="0.55"/>
<circle cx="368.74" cy="634.46" r="2.3" fill="#3b3b3b" fill-opacity="0.95" stroke="#1c1c1c" stroke-width="0.55"/>
<circle cx="370.92" cy="634.46" r="2.3" fill="#3b3b3b" fill-opacity="0.95" stroke="#1c1c1c" stroke-width="0.55"/>
<circle cx="373.1" cy="634.46" r="2.3" fill="#3b3b3b" fill-opacity="0.95" stroke="#1c1c1c" stroke-width="0.55"/>
<circle cx="375.27" cy="634.46" r="2.3" fill="#3b3b3b" fill-opacity="0.95" stroke="#1c1c1c" stroke-width="0.55"/>
<circle cx="377.45" cy="634.46" r="2.3" fill="#3b3b3b" fill-opacity="0.95" stroke="#1c1c1c" stroke-width="0.55"/>
<circle cx="379.63" cy="634.46" r="2.3" fill="#3b3b3b" fill-opacity="0.95" stroke="#1c1c1c" stroke-width="0.55"/>
<circle cx="381.81" cy="634.46" r="2.3" fill="#3b3b3b" fill-opacity="0.95" stroke="#1c1c1c" stroke-width="0.55"/>
<circle cx="383.99" cy="634.46" r="2.3" fill="#3b3b3b" fill-opacity="0.95" stroke="#1c1c1c" stroke-width="0.55"/>
<circle cx="386.17" cy="634.46" r="2.3" fill="#3b3b3b" fill-opacity="0.95" stroke="#1c1c1c" stroke-width="0.55"/>
<circle cx="388.35" cy="634.46" r="2.3" fill="#3b3b3b" fill-opacity="0.95" stroke="#1c1c1c" stroke-width="0.55"/>
<circle cx="390.53" cy="634.46" r="2.3" fill="#3b3b3b" fill-opacity="0.95" stroke="#1c1c1c" stroke-width="0.55"/>
<circle cx="392.71" cy="634.46" r="2.3" fill="#3b3b3b" fill-opacity="0.95" stroke="#1c1c1c" stroke-width="0.55"/>
<circle cx="394.89" cy="634.46" r="2.3" fill="#3b3b3b" fill-opacity="0.95" stroke="#1c1c1c" stroke-width="0.55"/>
<circle cx="397.06" cy="634.46" r="2.3" fill="#3b3b3b" fill-opacity="0.95" stroke="#1c1c1c" stroke-width="0.55"/>
<circle cx="399.24" cy="634.46" r="2.3" fill="#3b3b3b" fill-opacity="0.95" stroke="#1c1c1c" stroke-width="0.55"/>
<polygon points="433.48,539.04 436.68,544.74 430.28,544.74" fill="#333333" fill-opacity="0.95"/>
<polygon points="425.29,561.13 428.49,566.83 422.09,566.83" fill="#333333" fill-opacity="0.95"/>
<polygon points="436.46,560.88 439.66,566.58 433.26,566.58" fill="#333333" fill-opacity="0.95"/>
<polygon points="445.89,564.35 449.09,570.05 442.69,570.05" fill="#333333" fill-opacity="0.95"/>
<polygon points="431.25,566.83 434.45,572.53 428.05,572.53" fill="#333333" fill-opacity="0.95"/>
<polygon points="439.69,570.31 442.89,576.01 436.49,576.01" fill="#333333" fill-opacity="0.95"/>
<polygon points="422.56,572.54 425.76,578.24 419.36,578.24" fill="#333333" fill-opacity="0.95"/>
<polygon points="427.03,573.04 430.23,578.74 423.83,578.74" fill="#333333" fill-opacity="0.95"/>
<polygon points="443.66,573.29 446.86,578.99 440.46,578.99" fill="#333333" fill-opacity="0.95"/>
<polygon points="435.47,575.27 438.67,580.97 432.27,580.97" fill="#333333" fill-opacity="0.95"/>
<polygon points="421.57,577.26 424.77,582.96 418.37,582.96" fill="#333333" fill-opacity="0.95"/>
<polygon points="439.69,587.18 442.89,592.88 436.49,592.88" fill="#333333" fill-opacity="0.95"/>
<polygon points="435.22,597.86 438.42,603.56 432.02,603.56" fill="#333333" fill-opacity="0.95"/>
<polygon points="429.01,615.48 432.21,621.18 425.81,621.18" fill="#333333" fill-opacity="0.95"/>
<polygon points="441.18,618.21 444.38,623.91 437.98,623.91" fill="#333333" fill-opacity="0.95"/>
<polygon points="429.01,620.94 432.21,626.64 425.81,626.64" fill="#333333" fill-opacity="0.95"/>
<polygon points="414.62,630.62 417.82,636.32 411.42,636.32" fill="#333333" fill-opacity="0.95"/>
<polygon points="417.1,630.62 420.3,636.32 413.9,636.32" fill="#333333" fill-opacity="0.95"/>
<polygon points="423.31,630.62 426.51,636.32 420.11,636.32" fill="#333333" fill-opacity="0.95"/>
<polygon points="428.77,630.62 431.97,636.32 425.57,636.32" fill="#333333" fill-opacity="0.95"/>
<polygon points="433.98,630.62 437.18,636.32 430.78,636.32" fill="#333333" fill-opacity="0.95"/>
<polygon points="436.46,630.62 439.66,636.32 433.26,636.32" fill="#333333" fill-opacity="0.95"/>
<polygon points="439.44,630.62 442.64,636.32 436.24,636.32" fill="#333333" fill-opacity="0.95"/>
<polygon points="445.15,630.62 448.35,636.32 441.95,636.32" fill="#333333" fill-opacity="0.95"/>
<polygon points="450.61,630.62 453.81,636.32 447.41,636.32" fill="#333333" fill-opacity="0.95"/>
<line x1="305.41" x2="343.41" y1="616.64" y2="616.64" stroke="#000" stroke-width="1.5"/>
<line x1="360.38" x2="398.38" y1="599.52" y2="599.52" stroke="#000" stroke-width="1.5"/>
<line x1="415.23" x2="453.23" y1="602.5" y2="602.5" stroke="#000" stroke-width="1.5"/>
</g>
<rect x="72.35" y="21" width="199.95" height="188.3" fill="none" stroke="#b8b8b8" stroke-width="0.8"/>
<rect x="72" y="0.9" width="200.65" height="20.1" fill="#b3b3b3"/>
<text x="172.32" y="15.6" transform="rotate(0.03 172.32 15.6)" text-anchor="middle" font-family="Liberation Sans, Arial, sans-serif" font-weight="bold" font-size="12.85" fill="#111">a) Medium</text>
<rect x="278" y="21" width="199.95" height="188.3" fill="none" stroke="#b8b8b8" stroke-width="0.8"/>
<rect x="277.65" y="0.9" width="200.65" height="20.1" fill="#b3b3b3"/>
<text x="377.98" y="15.6" transform="rotate(0.03 377.98 15.6)" text-anchor="middle" font-family="Liberation Sans, Arial, sans-serif" font-weight="bold" font-size="12.85" fill="#111">b) EC fusion protein</text>
<rect x="483.65" y="21" width="199.95" height="188.3" fill="none" stroke="#b8b8b8" stroke-width="0.8"/>
<rect x="483.3" y="0.9" width="200.65" height="20.1" fill="#b3b3b3"/>
<text x="583.62" y="15.6" transform="rotate(0.03 583.62 15.6)" text-anchor="middle" font-family="Liberation Sans, Arial, sans-serif" font-weight="bold" font-size="12.85" fill="#111">c) PPD</text>
<rect x="72.35" y="237.7" width="199.95" height="188.3" fill="none" stroke="#b8b8b8" stroke-width="0.8"/>
<rect x="72" y="217.6" width="200.65" height="20.1" fill="#b3b3b3"/>
<text x="172.32" y="232.3" transform="rotate(0.03 172.32 232.3)" text-anchor="middle" font-family="Liberation Sans, Arial, sans-serif" font-weight="bold" font-size="12.85" fill="#111">d) RpfA</text>
<rect x="278" y="237.7" width="199.95" height="188.3" fill="none" stroke="#b8b8b8" stroke-width="0.8"/>
<rect x="277.65" y="217.6" width="200.65" height="20.1" fill="#b3b3b3"/>
<text x="377.98" y="232.3" transform="rotate(0.03 377.98 232.3)" text-anchor="middle" font-family="Liberation Sans, Arial, sans-serif" font-weight="bold" font-size="12.85" fill="#111">e) RpfB</text>
<rect x="483.65" y="237.7" width="199.95" height="188.3" fill="none" stroke="#b8b8b8" stroke-width="0.8"/>
<rect x="483.3" y="217.6" width="200.65" height="20.1" fill="#b3b3b3"/>
<text x="583.62" y="232.3" transform="rotate(0.03 583.62 232.3)" text-anchor="middle" font-family="Liberation Sans, Arial, sans-serif" font-weight="bold" font-size="12.85" fill="#111">f) RpfC</text>
<rect x="72.35" y="454.4" width="199.95" height="188.3" fill="none" stroke="#b8b8b8" stroke-width="0.8"/>
<rect x="72" y="434.3" width="200.65" height="20.1" fill="#b3b3b3"/>
<text x="172.32" y="449" transform="rotate(0.03 172.32 449)" text-anchor="middle" font-family="Liberation Sans, Arial, sans-serif" font-weight="bold" font-size="12.85" fill="#111">g) RpfD</text>
<rect x="278" y="454.4" width="199.95" height="188.3" fill="none" stroke="#b8b8b8" stroke-width="0.8"/>
<rect x="277.65" y="434.3" width="200.65" height="20.1" fill="#b3b3b3"/>
<text x="377.98" y="449" transform="rotate(0.03 377.98 449)" text-anchor="middle" font-family="Liberation Sans, Arial, sans-serif" font-weight="bold" font-size="12.85" fill="#111">h) RpfE</text>
<line x1="69.15" x2="72.35" y1="166.57" y2="166.57" stroke="#c4c4c4" stroke-width="0.75"/>
<text x="67.3" y="171.12" transform="rotate(0.03 67.3 166.57)" text-anchor="end" font-family="Liberation Sans, Arial, sans-serif" font-size="12.6" fill="#4d4d4d">10</text>
<line x1="69.15" x2="72.35" y1="132.24" y2="132.24" stroke="#c4c4c4" stroke-width="0.75"/>
<text x="67.3" y="136.79" transform="rotate(0.03 67.3 132.24)" text-anchor="end" font-family="Liberation Sans, Arial, sans-serif" font-size="12.6" fill="#4d4d4d">100</text>
<line x1="69.15" x2="72.35" y1="97.91" y2="97.91" stroke="#c4c4c4" stroke-width="0.75"/>
<text x="67.3" y="102.46" transform="rotate(0.03 67.3 97.91)" text-anchor="end" font-family="Liberation Sans, Arial, sans-serif" font-size="12.6" fill="#4d4d4d">1000</text>
<line x1="69.15" x2="72.35" y1="63.58" y2="63.58" stroke="#c4c4c4" stroke-width="0.75"/>
<text x="67.3" y="68.13" transform="rotate(0.03 67.3 63.58)" text-anchor="end" font-family="Liberation Sans, Arial, sans-serif" font-size="12.6" fill="#4d4d4d">10000</text>
<line x1="69.15" x2="72.35" y1="383.43" y2="383.43" stroke="#c4c4c4" stroke-width="0.75"/>
<text x="67.3" y="387.98" transform="rotate(0.03 67.3 383.43)" text-anchor="end" font-family="Liberation Sans, Arial, sans-serif" font-size="12.6" fill="#4d4d4d">10</text>
<line x1="69.15" x2="72.35" y1="349.16" y2="349.16" stroke="#c4c4c4" stroke-width="0.75"/>
<text x="67.3" y="353.71" transform="rotate(0.03 67.3 349.16)" text-anchor="end" font-family="Liberation Sans, Arial, sans-serif" font-size="12.6" fill="#4d4d4d">100</text>
<line x1="69.15" x2="72.35" y1="314.89" y2="314.89" stroke="#c4c4c4" stroke-width="0.75"/>
<text x="67.3" y="319.44" transform="rotate(0.03 67.3 314.89)" text-anchor="end" font-family="Liberation Sans, Arial, sans-serif" font-size="12.6" fill="#4d4d4d">1000</text>
<line x1="69.15" x2="72.35" y1="280.62" y2="280.62" stroke="#c4c4c4" stroke-width="0.75"/>
<text x="67.3" y="285.17" transform="rotate(0.03 67.3 280.62)" text-anchor="end" font-family="Liberation Sans, Arial, sans-serif" font-size="12.6" fill="#4d4d4d">10000</text>
<line x1="69.15" x2="72.35" y1="600.17" y2="600.17" stroke="#c4c4c4" stroke-width="0.75"/>
<text x="67.3" y="604.72" transform="rotate(0.03 67.3 600.17)" text-anchor="end" font-family="Liberation Sans, Arial, sans-serif" font-size="12.6" fill="#4d4d4d">10</text>
<line x1="69.15" x2="72.35" y1="565.94" y2="565.94" stroke="#c4c4c4" stroke-width="0.75"/>
<text x="67.3" y="570.49" transform="rotate(0.03 67.3 565.94)" text-anchor="end" font-family="Liberation Sans, Arial, sans-serif" font-size="12.6" fill="#4d4d4d">100</text>
<line x1="69.15" x2="72.35" y1="531.71" y2="531.71" stroke="#c4c4c4" stroke-width="0.75"/>
<text x="67.3" y="536.26" transform="rotate(0.03 67.3 531.71)" text-anchor="end" font-family="Liberation Sans, Arial, sans-serif" font-size="12.6" fill="#4d4d4d">1000</text>
<line x1="69.15" x2="72.35" y1="497.48" y2="497.48" stroke="#c4c4c4" stroke-width="0.75"/>
<text x="67.3" y="502.03" transform="rotate(0.03 67.3 497.48)" text-anchor="end" font-family="Liberation Sans, Arial, sans-serif" font-size="12.6" fill="#4d4d4d">10000</text>
<text transform="translate(10.9,422.2) rotate(-90)" textLength="181.0" lengthAdjust="spacing" font-family="Liberation Sans, Arial, sans-serif" font-size="15.1" fill="#000">IFN-y concentration (pg/ml)</text>
<circle cx="172.7" cy="670.4" r="2.3" fill="none" stroke="#333" stroke-width="0.6"/>
<text x="186.0" y="675.8" transform="rotate(0.03 186.0 675.8)" textLength="124.6" lengthAdjust="spacing" font-family="Liberation Sans, Arial, sans-serif" font-size="15.1" fill="#000">IGRA- (uninfected)</text>
<circle cx="324" cy="670.4" r="2.5" fill="#333333"/>
<text x="338.2" y="675.8" transform="rotate(0.03 338.2 675.8)" textLength="157.4" lengthAdjust="spacing" font-family="Liberation Sans, Arial, sans-serif" font-size="15.1" fill="#000">IGRA+ (MTBC infected)</text>
<polygon points="509.4,666.3 512.7,672.3 506.1,672.3" fill="#333333"/>
<text x="523.6" y="675.8" transform="rotate(0.03 523.6 675.8)" textLength="73.8" lengthAdjust="spacing" font-family="Liberation Sans, Arial, sans-serif" font-size="15.1" fill="#000">TB disease</text>
</svg>
</body></html>
